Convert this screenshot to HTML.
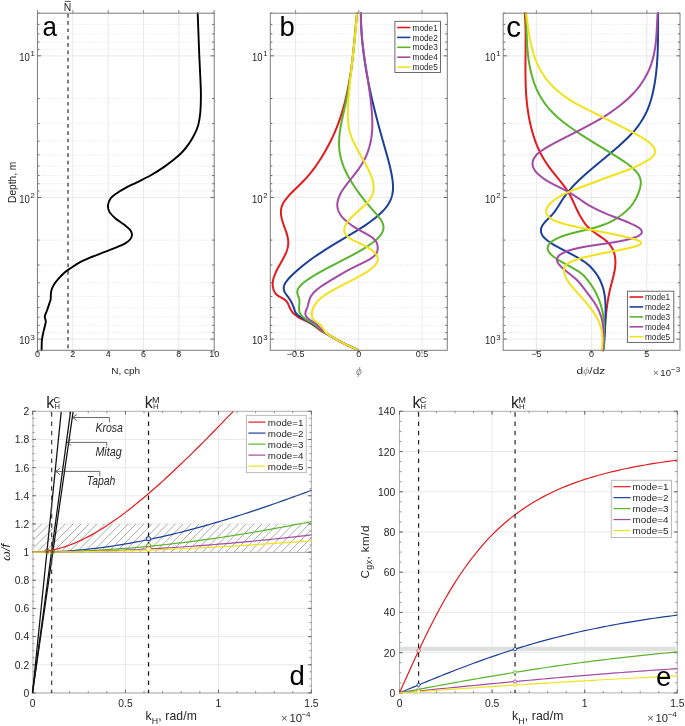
<!DOCTYPE html><html><head><meta charset="utf-8"><style>html,body{margin:0;padding:0;background:#fff;}svg{display:block;will-change:transform;}text{font-family:"Liberation Sans",sans-serif;}</style></head><body>
<svg width="685" height="726" viewBox="0 0 685 726">
<rect width="685" height="726" fill="#fff"/>
<line x1="37.45" y1="24.41" x2="214.2" y2="24.41" stroke="#e2e2e2" stroke-width="0.8" stroke-dasharray="1 1.2"/>
<line x1="37.45" y1="33.9" x2="214.2" y2="33.9" stroke="#e2e2e2" stroke-width="0.8" stroke-dasharray="1 1.2"/>
<line x1="37.45" y1="42.11" x2="214.2" y2="42.11" stroke="#e2e2e2" stroke-width="0.8" stroke-dasharray="1 1.2"/>
<line x1="37.45" y1="49.35" x2="214.2" y2="49.35" stroke="#e2e2e2" stroke-width="0.8" stroke-dasharray="1 1.2"/>
<line x1="37.45" y1="98.47" x2="214.2" y2="98.47" stroke="#e2e2e2" stroke-width="0.8" stroke-dasharray="1 1.2"/>
<line x1="37.45" y1="123.41" x2="214.2" y2="123.41" stroke="#e2e2e2" stroke-width="0.8" stroke-dasharray="1 1.2"/>
<line x1="37.45" y1="141.1" x2="214.2" y2="141.1" stroke="#e2e2e2" stroke-width="0.8" stroke-dasharray="1 1.2"/>
<line x1="37.45" y1="154.83" x2="214.2" y2="154.83" stroke="#e2e2e2" stroke-width="0.8" stroke-dasharray="1 1.2"/>
<line x1="37.45" y1="166.04" x2="214.2" y2="166.04" stroke="#e2e2e2" stroke-width="0.8" stroke-dasharray="1 1.2"/>
<line x1="37.45" y1="175.52" x2="214.2" y2="175.52" stroke="#e2e2e2" stroke-width="0.8" stroke-dasharray="1 1.2"/>
<line x1="37.45" y1="183.73" x2="214.2" y2="183.73" stroke="#e2e2e2" stroke-width="0.8" stroke-dasharray="1 1.2"/>
<line x1="37.45" y1="190.98" x2="214.2" y2="190.98" stroke="#e2e2e2" stroke-width="0.8" stroke-dasharray="1 1.2"/>
<line x1="37.45" y1="240.09" x2="214.2" y2="240.09" stroke="#e2e2e2" stroke-width="0.8" stroke-dasharray="1 1.2"/>
<line x1="37.45" y1="265.03" x2="214.2" y2="265.03" stroke="#e2e2e2" stroke-width="0.8" stroke-dasharray="1 1.2"/>
<line x1="37.45" y1="282.73" x2="214.2" y2="282.73" stroke="#e2e2e2" stroke-width="0.8" stroke-dasharray="1 1.2"/>
<line x1="37.45" y1="296.45" x2="214.2" y2="296.45" stroke="#e2e2e2" stroke-width="0.8" stroke-dasharray="1 1.2"/>
<line x1="37.45" y1="307.67" x2="214.2" y2="307.67" stroke="#e2e2e2" stroke-width="0.8" stroke-dasharray="1 1.2"/>
<line x1="37.45" y1="317.15" x2="214.2" y2="317.15" stroke="#e2e2e2" stroke-width="0.8" stroke-dasharray="1 1.2"/>
<line x1="37.45" y1="325.36" x2="214.2" y2="325.36" stroke="#e2e2e2" stroke-width="0.8" stroke-dasharray="1 1.2"/>
<line x1="37.45" y1="332.61" x2="214.2" y2="332.61" stroke="#e2e2e2" stroke-width="0.8" stroke-dasharray="1 1.2"/>
<line x1="37.45" y1="55.83" x2="214.2" y2="55.83" stroke="#e6e6e6" stroke-width="0.9"/>
<line x1="37.45" y1="197.46" x2="214.2" y2="197.46" stroke="#e6e6e6" stroke-width="0.9"/>
<line x1="37.45" y1="339.09" x2="214.2" y2="339.09" stroke="#e6e6e6" stroke-width="0.9"/>
<line x1="72.8" y1="13.2" x2="72.8" y2="350.3" stroke="#e6e6e6" stroke-width="0.9"/>
<line x1="108.15" y1="13.2" x2="108.15" y2="350.3" stroke="#e6e6e6" stroke-width="0.9"/>
<line x1="143.5" y1="13.2" x2="143.5" y2="350.3" stroke="#e6e6e6" stroke-width="0.9"/>
<line x1="178.85" y1="13.2" x2="178.85" y2="350.3" stroke="#e6e6e6" stroke-width="0.9"/>
<line x1="68.03" y1="13.7" x2="68.03" y2="350.3" stroke="#4a4a4a" stroke-width="1.4" stroke-dasharray="3.7 3.65"/>
<path d="M197.7,13.3C198,21.43 198.32,30.17 198.6,37.7C198.84,44.18 199.03,49.37 199.3,55.8C199.61,63.12 200.12,72.25 200.4,79.3C200.63,85.06 200.92,89.56 200.9,95C200.88,100.89 200.76,107.96 200.2,113.4C199.75,117.78 199.27,121.48 198.2,125.2C197.17,128.76 195.59,132.15 194,135.3C192.5,138.26 190.89,140.89 189,143.6C187.01,146.46 184.78,149.36 182.3,152C179.76,154.71 176.89,157.15 173.9,159.6C170.75,162.19 167.46,164.6 163.8,167.1C159.7,169.9 154.94,172.94 150.4,175.5C145.97,178 141.24,180.13 136.9,182.3C132.86,184.32 128.74,186.15 125.2,188.1C122.13,189.79 119.32,191.37 116.8,193.2C114.5,194.86 112.08,196.43 110.6,198.5C109.22,200.43 108.2,202.87 108,205.1C107.8,207.27 108.27,209.64 109.3,211.7C110.48,214.05 112.89,216.14 115.2,218.2C117.82,220.54 121.72,222.65 124.4,224.8C126.64,226.6 129.03,228.23 130.3,230.1C131.3,231.57 132,233.17 132,234.7C132,236.23 131.33,237.9 130.3,239.3C129.03,241.03 126.69,242.56 124.4,243.9C121.76,245.45 118.47,246.47 115.2,247.8C111.52,249.3 107.34,250.87 103.4,252.4C99.44,253.94 95.44,255.36 91.5,257C87.54,258.65 83.28,260.35 79.7,262.3C76.48,264.05 73.54,266.22 70.9,268C68.69,269.49 66.82,270.58 64.9,272.2C62.84,273.94 60.82,276.15 59,278.2C57.26,280.16 55.45,282.25 54.2,284.2C53.16,285.83 52.35,287.37 51.8,289C51.28,290.54 51.1,292.03 50.9,293.7C50.68,295.57 50.92,297.97 50.6,299.7C50.34,301.07 49.87,301.89 49.4,303.3C48.74,305.29 47.8,308.21 47,310.5C46.27,312.6 44.94,314.59 44.8,316.5C44.68,318.17 45.79,319.61 45.8,321.3C45.81,323.19 45.05,325.31 44.6,327.3C44.15,329.31 43.54,331.21 43.1,333.3C42.63,335.56 42.16,337.83 41.9,340.4C41.6,343.42 41.7,347 41.6,350.3" fill="none" stroke="#000" stroke-width="1.9" stroke-linejoin="round" stroke-linecap="round"/>
<line x1="37.45" y1="13.2" x2="39.45" y2="13.2" stroke="#555" stroke-width="0.9"/>
<line x1="214.2" y1="13.2" x2="212.2" y2="13.2" stroke="#555" stroke-width="0.9"/>
<line x1="37.45" y1="24.41" x2="39.45" y2="24.41" stroke="#555" stroke-width="0.9"/>
<line x1="214.2" y1="24.41" x2="212.2" y2="24.41" stroke="#555" stroke-width="0.9"/>
<line x1="37.45" y1="33.9" x2="39.45" y2="33.9" stroke="#555" stroke-width="0.9"/>
<line x1="214.2" y1="33.9" x2="212.2" y2="33.9" stroke="#555" stroke-width="0.9"/>
<line x1="37.45" y1="42.11" x2="39.45" y2="42.11" stroke="#555" stroke-width="0.9"/>
<line x1="214.2" y1="42.11" x2="212.2" y2="42.11" stroke="#555" stroke-width="0.9"/>
<line x1="37.45" y1="49.35" x2="39.45" y2="49.35" stroke="#555" stroke-width="0.9"/>
<line x1="214.2" y1="49.35" x2="212.2" y2="49.35" stroke="#555" stroke-width="0.9"/>
<line x1="37.45" y1="55.83" x2="41.05" y2="55.83" stroke="#555" stroke-width="0.9"/>
<line x1="214.2" y1="55.83" x2="210.6" y2="55.83" stroke="#555" stroke-width="0.9"/>
<line x1="37.45" y1="98.47" x2="39.45" y2="98.47" stroke="#555" stroke-width="0.9"/>
<line x1="214.2" y1="98.47" x2="212.2" y2="98.47" stroke="#555" stroke-width="0.9"/>
<line x1="37.45" y1="123.41" x2="39.45" y2="123.41" stroke="#555" stroke-width="0.9"/>
<line x1="214.2" y1="123.41" x2="212.2" y2="123.41" stroke="#555" stroke-width="0.9"/>
<line x1="37.45" y1="141.1" x2="39.45" y2="141.1" stroke="#555" stroke-width="0.9"/>
<line x1="214.2" y1="141.1" x2="212.2" y2="141.1" stroke="#555" stroke-width="0.9"/>
<line x1="37.45" y1="154.83" x2="39.45" y2="154.83" stroke="#555" stroke-width="0.9"/>
<line x1="214.2" y1="154.83" x2="212.2" y2="154.83" stroke="#555" stroke-width="0.9"/>
<line x1="37.45" y1="166.04" x2="39.45" y2="166.04" stroke="#555" stroke-width="0.9"/>
<line x1="214.2" y1="166.04" x2="212.2" y2="166.04" stroke="#555" stroke-width="0.9"/>
<line x1="37.45" y1="175.52" x2="39.45" y2="175.52" stroke="#555" stroke-width="0.9"/>
<line x1="214.2" y1="175.52" x2="212.2" y2="175.52" stroke="#555" stroke-width="0.9"/>
<line x1="37.45" y1="183.73" x2="39.45" y2="183.73" stroke="#555" stroke-width="0.9"/>
<line x1="214.2" y1="183.73" x2="212.2" y2="183.73" stroke="#555" stroke-width="0.9"/>
<line x1="37.45" y1="190.98" x2="39.45" y2="190.98" stroke="#555" stroke-width="0.9"/>
<line x1="214.2" y1="190.98" x2="212.2" y2="190.98" stroke="#555" stroke-width="0.9"/>
<line x1="37.45" y1="197.46" x2="41.05" y2="197.46" stroke="#555" stroke-width="0.9"/>
<line x1="214.2" y1="197.46" x2="210.6" y2="197.46" stroke="#555" stroke-width="0.9"/>
<line x1="37.45" y1="240.09" x2="39.45" y2="240.09" stroke="#555" stroke-width="0.9"/>
<line x1="214.2" y1="240.09" x2="212.2" y2="240.09" stroke="#555" stroke-width="0.9"/>
<line x1="37.45" y1="265.03" x2="39.45" y2="265.03" stroke="#555" stroke-width="0.9"/>
<line x1="214.2" y1="265.03" x2="212.2" y2="265.03" stroke="#555" stroke-width="0.9"/>
<line x1="37.45" y1="282.73" x2="39.45" y2="282.73" stroke="#555" stroke-width="0.9"/>
<line x1="214.2" y1="282.73" x2="212.2" y2="282.73" stroke="#555" stroke-width="0.9"/>
<line x1="37.45" y1="296.45" x2="39.45" y2="296.45" stroke="#555" stroke-width="0.9"/>
<line x1="214.2" y1="296.45" x2="212.2" y2="296.45" stroke="#555" stroke-width="0.9"/>
<line x1="37.45" y1="307.67" x2="39.45" y2="307.67" stroke="#555" stroke-width="0.9"/>
<line x1="214.2" y1="307.67" x2="212.2" y2="307.67" stroke="#555" stroke-width="0.9"/>
<line x1="37.45" y1="317.15" x2="39.45" y2="317.15" stroke="#555" stroke-width="0.9"/>
<line x1="214.2" y1="317.15" x2="212.2" y2="317.15" stroke="#555" stroke-width="0.9"/>
<line x1="37.45" y1="325.36" x2="39.45" y2="325.36" stroke="#555" stroke-width="0.9"/>
<line x1="214.2" y1="325.36" x2="212.2" y2="325.36" stroke="#555" stroke-width="0.9"/>
<line x1="37.45" y1="332.61" x2="39.45" y2="332.61" stroke="#555" stroke-width="0.9"/>
<line x1="214.2" y1="332.61" x2="212.2" y2="332.61" stroke="#555" stroke-width="0.9"/>
<line x1="37.45" y1="339.09" x2="41.05" y2="339.09" stroke="#555" stroke-width="0.9"/>
<line x1="214.2" y1="339.09" x2="210.6" y2="339.09" stroke="#555" stroke-width="0.9"/>
<line x1="37.45" y1="13.2" x2="37.45" y2="10" stroke="#7c7c7c" stroke-width="0.9"/>
<line x1="37.45" y1="350.3" x2="37.45" y2="353.5" stroke="#7c7c7c" stroke-width="0.9"/>
<line x1="72.8" y1="13.2" x2="72.8" y2="10" stroke="#7c7c7c" stroke-width="0.9"/>
<line x1="72.8" y1="350.3" x2="72.8" y2="353.5" stroke="#7c7c7c" stroke-width="0.9"/>
<line x1="108.15" y1="13.2" x2="108.15" y2="10" stroke="#7c7c7c" stroke-width="0.9"/>
<line x1="108.15" y1="350.3" x2="108.15" y2="353.5" stroke="#7c7c7c" stroke-width="0.9"/>
<line x1="143.5" y1="13.2" x2="143.5" y2="10" stroke="#7c7c7c" stroke-width="0.9"/>
<line x1="143.5" y1="350.3" x2="143.5" y2="353.5" stroke="#7c7c7c" stroke-width="0.9"/>
<line x1="178.85" y1="13.2" x2="178.85" y2="10" stroke="#7c7c7c" stroke-width="0.9"/>
<line x1="178.85" y1="350.3" x2="178.85" y2="353.5" stroke="#7c7c7c" stroke-width="0.9"/>
<line x1="214.2" y1="13.2" x2="214.2" y2="10" stroke="#7c7c7c" stroke-width="0.9"/>
<line x1="214.2" y1="350.3" x2="214.2" y2="353.5" stroke="#7c7c7c" stroke-width="0.9"/>
<rect x="37.45" y="13.2" width="176.75" height="337.1" fill="none" stroke="#7c7c7c" stroke-width="1"/>
<text x="37.45" y="357.2" font-size="9" text-anchor="middle" fill="#262626">0</text>
<text x="72.8" y="357.2" font-size="9" text-anchor="middle" fill="#262626">2</text>
<text x="108.15" y="357.2" font-size="9" text-anchor="middle" fill="#262626">4</text>
<text x="143.5" y="357.2" font-size="9" text-anchor="middle" fill="#262626">6</text>
<text x="178.85" y="357.2" font-size="9" text-anchor="middle" fill="#262626">8</text>
<text x="214.2" y="357.2" font-size="9" text-anchor="middle" fill="#262626">10</text>
<text x="19.15" y="61.13" font-family="Liberation Serif" font-size="10.6" fill="#262626" textLength="10.6" lengthAdjust="spacingAndGlyphs">10</text>
<text x="30.45" y="56.43" font-family="Liberation Serif" font-size="7.8" fill="#262626">1</text>
<text x="19.15" y="202.76" font-family="Liberation Serif" font-size="10.6" fill="#262626" textLength="10.6" lengthAdjust="spacingAndGlyphs">10</text>
<text x="30.45" y="198.06" font-family="Liberation Serif" font-size="7.8" fill="#262626">2</text>
<text x="19.15" y="344.39" font-family="Liberation Serif" font-size="10.6" fill="#262626" textLength="10.6" lengthAdjust="spacingAndGlyphs">10</text>
<text x="30.45" y="339.69" font-family="Liberation Serif" font-size="7.8" fill="#262626">3</text>
<text x="67.43" y="10.7" font-size="10.4" text-anchor="middle" fill="#262626">N</text>
<line x1="64.73" y1="1.4" x2="70.63" y2="1.4" stroke="#262626" stroke-width="0.8"/>
<text x="42.4" y="36.2" font-size="28" fill="#000" textLength="14.4" lengthAdjust="spacingAndGlyphs">a</text>
<text x="111.2" y="373.9" font-size="9.6" fill="#262626" textLength="29" lengthAdjust="spacingAndGlyphs">N, cph</text>
<text transform="translate(16.0,182.3) rotate(-90)" font-size="10.2" text-anchor="middle" fill="#262626">Depth, m</text>
<line x1="270.3" y1="24.41" x2="447.3" y2="24.41" stroke="#e2e2e2" stroke-width="0.8" stroke-dasharray="1 1.2"/>
<line x1="270.3" y1="33.9" x2="447.3" y2="33.9" stroke="#e2e2e2" stroke-width="0.8" stroke-dasharray="1 1.2"/>
<line x1="270.3" y1="42.11" x2="447.3" y2="42.11" stroke="#e2e2e2" stroke-width="0.8" stroke-dasharray="1 1.2"/>
<line x1="270.3" y1="49.35" x2="447.3" y2="49.35" stroke="#e2e2e2" stroke-width="0.8" stroke-dasharray="1 1.2"/>
<line x1="270.3" y1="98.47" x2="447.3" y2="98.47" stroke="#e2e2e2" stroke-width="0.8" stroke-dasharray="1 1.2"/>
<line x1="270.3" y1="123.41" x2="447.3" y2="123.41" stroke="#e2e2e2" stroke-width="0.8" stroke-dasharray="1 1.2"/>
<line x1="270.3" y1="141.1" x2="447.3" y2="141.1" stroke="#e2e2e2" stroke-width="0.8" stroke-dasharray="1 1.2"/>
<line x1="270.3" y1="154.83" x2="447.3" y2="154.83" stroke="#e2e2e2" stroke-width="0.8" stroke-dasharray="1 1.2"/>
<line x1="270.3" y1="166.04" x2="447.3" y2="166.04" stroke="#e2e2e2" stroke-width="0.8" stroke-dasharray="1 1.2"/>
<line x1="270.3" y1="175.52" x2="447.3" y2="175.52" stroke="#e2e2e2" stroke-width="0.8" stroke-dasharray="1 1.2"/>
<line x1="270.3" y1="183.73" x2="447.3" y2="183.73" stroke="#e2e2e2" stroke-width="0.8" stroke-dasharray="1 1.2"/>
<line x1="270.3" y1="190.98" x2="447.3" y2="190.98" stroke="#e2e2e2" stroke-width="0.8" stroke-dasharray="1 1.2"/>
<line x1="270.3" y1="240.09" x2="447.3" y2="240.09" stroke="#e2e2e2" stroke-width="0.8" stroke-dasharray="1 1.2"/>
<line x1="270.3" y1="265.03" x2="447.3" y2="265.03" stroke="#e2e2e2" stroke-width="0.8" stroke-dasharray="1 1.2"/>
<line x1="270.3" y1="282.73" x2="447.3" y2="282.73" stroke="#e2e2e2" stroke-width="0.8" stroke-dasharray="1 1.2"/>
<line x1="270.3" y1="296.45" x2="447.3" y2="296.45" stroke="#e2e2e2" stroke-width="0.8" stroke-dasharray="1 1.2"/>
<line x1="270.3" y1="307.67" x2="447.3" y2="307.67" stroke="#e2e2e2" stroke-width="0.8" stroke-dasharray="1 1.2"/>
<line x1="270.3" y1="317.15" x2="447.3" y2="317.15" stroke="#e2e2e2" stroke-width="0.8" stroke-dasharray="1 1.2"/>
<line x1="270.3" y1="325.36" x2="447.3" y2="325.36" stroke="#e2e2e2" stroke-width="0.8" stroke-dasharray="1 1.2"/>
<line x1="270.3" y1="332.61" x2="447.3" y2="332.61" stroke="#e2e2e2" stroke-width="0.8" stroke-dasharray="1 1.2"/>
<line x1="270.3" y1="55.83" x2="447.3" y2="55.83" stroke="#e6e6e6" stroke-width="0.9"/>
<line x1="270.3" y1="197.46" x2="447.3" y2="197.46" stroke="#e6e6e6" stroke-width="0.9"/>
<line x1="270.3" y1="339.09" x2="447.3" y2="339.09" stroke="#e6e6e6" stroke-width="0.9"/>
<line x1="295.59" y1="13.2" x2="295.59" y2="350.3" stroke="#e6e6e6" stroke-width="0.9"/>
<line x1="358.8" y1="13.2" x2="358.8" y2="350.3" stroke="#e6e6e6" stroke-width="0.9"/>
<line x1="422.01" y1="13.2" x2="422.01" y2="350.3" stroke="#e6e6e6" stroke-width="0.9"/>
<path d="M357.09,13.3 L356.98,14.3 L356.87,15.3 L356.77,16.3 L356.66,17.3 L356.55,18.3 L356.45,19.3 L356.35,20.3 L356.25,21.3 L356.15,22.3 L356.04,23.3 L355.95,24.3 L355.85,25.3 L355.75,26.3 L355.65,27.3 L355.55,28.3 L355.46,29.3 L355.36,30.3 L355.27,31.3 L355.17,32.3 L355.07,33.3 L354.98,34.3 L354.88,35.3 L354.79,36.3 L354.69,37.3 L354.6,38.3 L354.5,39.3 L354.4,40.3 L354.31,41.3 L354.21,42.3 L354.11,43.3 L354.01,44.3 L353.92,45.3 L353.82,46.3 L353.72,47.3 L353.61,48.3 L353.51,49.3 L353.41,50.3 L353.3,51.3 L353.2,52.3 L353.09,53.3 L352.98,54.3 L352.87,55.3 L352.76,56.3 L352.65,57.3 L352.53,58.3 L352.42,59.3 L352.3,60.3 L352.18,61.3 L352.06,62.3 L351.93,63.3 L351.81,64.3 L351.68,65.3 L351.55,66.3 L351.42,67.3 L351.29,68.3 L351.15,69.3 L351.01,70.3 L350.87,71.3 L350.72,72.3 L350.58,73.3 L350.43,74.3 L350.28,75.3 L350.12,76.3 L349.96,77.3 L349.8,78.3 L349.64,79.3 L349.47,80.3 L349.3,81.3 L349.13,82.3 L348.95,83.3 L348.77,84.3 L348.58,85.3 L348.4,86.3 L348.21,87.3 L348.01,88.3 L347.81,89.3 L347.61,90.3 L347.4,91.3 L347.19,92.3 L346.98,93.3 L346.76,94.3 L346.54,95.3 L346.31,96.3 L346.08,97.3 L345.84,98.3 L345.6,99.3 L345.36,100.3 L345.11,101.3 L344.85,102.3 L344.6,103.3 L344.33,104.3 L344.06,105.3 L343.79,106.3 L343.51,107.3 L343.23,108.3 L342.94,109.3 L342.64,110.3 L342.35,111.3 L342.04,112.3 L341.73,113.3 L341.41,114.3 L341.09,115.3 L340.77,116.3 L340.43,117.3 L340.09,118.3 L339.75,119.3 L339.4,120.3 L339.04,121.3 L338.68,122.3 L338.31,123.3 L337.94,124.3 L337.56,125.3 L337.17,126.3 L336.78,127.3 L336.37,128.3 L335.97,129.3 L335.55,130.3 L335.13,131.3 L334.71,132.3 L334.27,133.3 L333.83,134.3 L333.38,135.3 L332.93,136.3 L332.47,137.3 L332,138.3 L331.52,139.3 L331.04,140.3 L330.54,141.3 L330.05,142.3 L329.54,143.3 L329.03,144.3 L328.5,145.3 L327.97,146.3 L327.44,147.3 L326.89,148.3 L326.34,149.3 L325.78,150.3 L325.21,151.3 L324.63,152.3 L324.04,153.3 L323.45,154.3 L322.85,155.3 L322.24,156.3 L321.62,157.3 L320.99,158.3 L320.35,159.3 L319.7,160.3 L319.05,161.3 L318.38,162.3 L317.7,163.3 L317.02,164.3 L316.32,165.3 L315.6,166.3 L314.88,167.3 L314.14,168.3 L313.39,169.3 L312.63,170.3 L311.85,171.3 L311.06,172.3 L310.25,173.3 L309.43,174.3 L308.59,175.3 L307.74,176.3 L306.86,177.3 L305.98,178.3 L305.07,179.3 L304.15,180.3 L303.2,181.3 L302.24,182.3 L301.26,183.3 L300.26,184.3 L299.25,185.3 L298.22,186.3 L297.19,187.3 L296.15,188.3 L295.12,189.3 L294.09,190.3 L293.07,191.3 L292.06,192.3 L291.08,193.3 L290.11,194.3 L289.18,195.3 L288.27,196.3 L287.4,197.3 L286.57,198.3 L285.78,199.3 L285.04,200.3 L284.35,201.3 L283.72,202.3 L283.15,203.3 L282.65,204.3 L282.21,205.3 L281.84,206.3 L281.54,207.3 L281.3,208.3 L281.12,209.3 L281,210.3 L280.93,211.3 L280.91,212.3 L280.94,213.3 L281.01,214.3 L281.13,215.3 L281.28,216.3 L281.46,217.3 L281.68,218.3 L281.92,219.3 L282.2,220.3 L282.49,221.3 L282.8,222.3 L283.13,223.3 L283.47,224.3 L283.82,225.3 L284.18,226.3 L284.54,227.3 L284.9,228.3 L285.26,229.3 L285.62,230.3 L285.96,231.3 L286.29,232.3 L286.61,233.3 L286.91,234.3 L287.19,235.3 L287.44,236.3 L287.67,237.3 L287.87,238.3 L288.03,239.3 L288.15,240.3 L288.24,241.3 L288.28,242.3 L288.28,243.3 L288.22,244.3 L288.12,245.3 L287.97,246.3 L287.77,247.3 L287.53,248.3 L287.25,249.3 L286.93,250.3 L286.58,251.3 L286.2,252.3 L285.78,253.3 L285.34,254.3 L284.88,255.3 L284.39,256.3 L283.89,257.3 L283.36,258.3 L282.83,259.3 L282.28,260.3 L281.72,261.3 L281.16,262.3 L280.6,263.3 L280.03,264.3 L279.47,265.3 L278.91,266.3 L278.36,267.3 L277.82,268.3 L277.29,269.3 L276.78,270.3 L276.28,271.3 L275.81,272.3 L275.36,273.3 L274.93,274.3 L274.54,275.3 L274.17,276.3 L273.84,277.3 L273.54,278.3 L273.29,279.3 L273.07,280.3 L272.9,281.3 L272.78,282.3 L272.7,283.3 L272.68,284.3 L272.71,285.3 L272.8,286.3 L272.95,287.3 L273.17,288.3 L273.44,289.3 L273.79,290.3 L274.21,291.3 L274.71,292.3 L275.37,293.3 L276.26,294.3 L277.47,295.3 L279.03,296.3 L280.8,297.3 L282.58,298.3 L284.19,299.3 L285.47,300.3 L286.46,301.3 L287.21,302.3 L287.8,303.3 L288.29,304.3 L288.74,305.3 L289.17,306.3 L289.61,307.3 L290.08,308.3 L290.59,309.3 L291.16,310.3 L291.82,311.3 L292.58,312.3 L293.47,313.3 L294.5,314.3 L295.69,315.3 L297.05,316.3 L298.61,317.3 L300.39,318.3 L302.39,319.3 L304.62,320.3 L306.88,321.3 L308.91,322.3 L310.67,323.3 L312.22,324.3 L313.62,325.3 L314.93,326.3 L316.19,327.3 L317.47,328.3 L318.82,329.3 L320.29,330.3 L321.93,331.3 L323.68,332.3 L325.53,333.3 L327.42,334.3 L329.33,335.3 L331.2,336.3 L333.02,337.3 L334.73,338.3 L336.37,339.3 L338.01,340.3 L339.71,341.3 L341.56,342.3 L343.6,343.3 L345.8,344.3 L348.07,345.3 L350.36,346.3 L352.59,347.3 L354.68,348.3 L356.57,349.3 L357.72,350" fill="none" stroke="#e41a1c" stroke-width="2.0" stroke-linejoin="round" stroke-linecap="round"/>
<path d="M360.95,13.3 L360.95,14.3 L360.96,15.3 L360.96,16.3 L360.98,17.3 L360.99,18.3 L361.01,19.3 L361.03,20.3 L361.06,21.3 L361.09,22.3 L361.12,23.3 L361.16,24.3 L361.2,25.3 L361.24,26.3 L361.29,27.3 L361.34,28.3 L361.39,29.3 L361.45,30.3 L361.51,31.3 L361.57,32.3 L361.64,33.3 L361.71,34.3 L361.78,35.3 L361.86,36.3 L361.94,37.3 L362.02,38.3 L362.1,39.3 L362.19,40.3 L362.28,41.3 L362.38,42.3 L362.47,43.3 L362.57,44.3 L362.68,45.3 L362.78,46.3 L362.89,47.3 L363.01,48.3 L363.12,49.3 L363.24,50.3 L363.36,51.3 L363.48,52.3 L363.61,53.3 L363.74,54.3 L363.87,55.3 L364,56.3 L364.14,57.3 L364.28,58.3 L364.42,59.3 L364.57,60.3 L364.72,61.3 L364.87,62.3 L365.02,63.3 L365.18,64.3 L365.33,65.3 L365.49,66.3 L365.66,67.3 L365.82,68.3 L365.99,69.3 L366.16,70.3 L366.33,71.3 L366.51,72.3 L366.68,73.3 L366.86,74.3 L367.05,75.3 L367.23,76.3 L367.42,77.3 L367.6,78.3 L367.79,79.3 L367.99,80.3 L368.18,81.3 L368.38,82.3 L368.58,83.3 L368.78,84.3 L368.98,85.3 L369.19,86.3 L369.4,87.3 L369.61,88.3 L369.82,89.3 L370.03,90.3 L370.25,91.3 L370.46,92.3 L370.68,93.3 L370.9,94.3 L371.13,95.3 L371.35,96.3 L371.58,97.3 L371.81,98.3 L372.04,99.3 L372.27,100.3 L372.5,101.3 L372.74,102.3 L372.97,103.3 L373.21,104.3 L373.45,105.3 L373.69,106.3 L373.93,107.3 L374.18,108.3 L374.43,109.3 L374.67,110.3 L374.92,111.3 L375.17,112.3 L375.43,113.3 L375.68,114.3 L375.93,115.3 L376.19,116.3 L376.45,117.3 L376.71,118.3 L376.97,119.3 L377.23,120.3 L377.49,121.3 L377.75,122.3 L378.02,123.3 L378.29,124.3 L378.55,125.3 L378.82,126.3 L379.09,127.3 L379.36,128.3 L379.63,129.3 L379.91,130.3 L380.18,131.3 L380.46,132.3 L380.73,133.3 L381.01,134.3 L381.29,135.3 L381.57,136.3 L381.85,137.3 L382.13,138.3 L382.41,139.3 L382.69,140.3 L382.97,141.3 L383.26,142.3 L383.54,143.3 L383.83,144.3 L384.11,145.3 L384.4,146.3 L384.69,147.3 L384.97,148.3 L385.26,149.3 L385.55,150.3 L385.83,151.3 L386.12,152.3 L386.4,153.3 L386.68,154.3 L386.96,155.3 L387.24,156.3 L387.52,157.3 L387.79,158.3 L388.06,159.3 L388.33,160.3 L388.59,161.3 L388.85,162.3 L389.11,163.3 L389.36,164.3 L389.61,165.3 L389.85,166.3 L390.08,167.3 L390.32,168.3 L390.54,169.3 L390.76,170.3 L390.97,171.3 L391.18,172.3 L391.38,173.3 L391.57,174.3 L391.76,175.3 L391.94,176.3 L392.11,177.3 L392.27,178.3 L392.42,179.3 L392.56,180.3 L392.68,181.3 L392.79,182.3 L392.88,183.3 L392.95,184.3 L393,185.3 L393.03,186.3 L393.04,187.3 L393.03,188.3 L392.98,189.3 L392.91,190.3 L392.81,191.3 L392.68,192.3 L392.52,193.3 L392.33,194.3 L392.1,195.3 L391.83,196.3 L391.52,197.3 L391.18,198.3 L390.79,199.3 L390.36,200.3 L389.89,201.3 L389.37,202.3 L388.8,203.3 L388.19,204.3 L387.53,205.3 L386.82,206.3 L386.06,207.3 L385.26,208.3 L384.41,209.3 L383.52,210.3 L382.58,211.3 L381.6,212.3 L380.58,213.3 L379.51,214.3 L378.41,215.3 L377.26,216.3 L376.07,217.3 L374.84,218.3 L373.56,219.3 L372.25,220.3 L370.91,221.3 L369.52,222.3 L368.1,223.3 L366.63,224.3 L365.14,225.3 L363.62,226.3 L362.06,227.3 L360.49,228.3 L358.89,229.3 L357.27,230.3 L355.63,231.3 L353.98,232.3 L352.32,233.3 L350.65,234.3 L348.97,235.3 L347.3,236.3 L345.62,237.3 L343.94,238.3 L342.26,239.3 L340.59,240.3 L338.92,241.3 L337.26,242.3 L335.6,243.3 L333.95,244.3 L332.32,245.3 L330.69,246.3 L329.08,247.3 L327.48,248.3 L325.9,249.3 L324.33,250.3 L322.79,251.3 L321.26,252.3 L319.76,253.3 L318.27,254.3 L316.81,255.3 L315.37,256.3 L313.95,257.3 L312.55,258.3 L311.17,259.3 L309.81,260.3 L308.47,261.3 L307.16,262.3 L305.86,263.3 L304.58,264.3 L303.33,265.3 L302.1,266.3 L300.88,267.3 L299.69,268.3 L298.52,269.3 L297.37,270.3 L296.23,271.3 L295.12,272.3 L294.03,273.3 L292.97,274.3 L291.92,275.3 L290.9,276.3 L289.91,277.3 L288.97,278.3 L288.07,279.3 L287.24,280.3 L286.48,281.3 L285.79,282.3 L285.18,283.3 L284.67,284.3 L284.25,285.3 L283.95,286.3 L283.76,287.3 L283.69,288.3 L283.76,289.3 L283.96,290.3 L284.32,291.3 L284.82,292.3 L285.44,293.3 L286.14,294.3 L286.88,295.3 L287.63,296.3 L288.35,297.3 L289.03,298.3 L289.69,299.3 L290.31,300.3 L290.9,301.3 L291.46,302.3 L291.98,303.3 L292.46,304.3 L292.91,305.3 L293.32,306.3 L293.69,307.3 L294.02,308.3 L294.31,309.3 L294.62,310.3 L294.99,311.3 L295.46,312.3 L296.09,313.3 L296.92,314.3 L298.01,315.3 L299.39,316.3 L301.06,317.3 L302.89,318.3 L304.74,319.3 L306.5,320.3 L308.19,321.3 L309.8,322.3 L311.37,323.3 L312.88,324.3 L314.36,325.3 L315.81,326.3 L317.25,327.3 L318.68,328.3 L320.11,329.3 L321.57,330.3 L323.04,331.3 L324.54,332.3 L326.06,333.3 L327.62,334.3 L329.22,335.3 L330.86,336.3 L332.55,337.3 L334.29,338.3 L336.08,339.3 L337.93,340.3 L339.84,341.3 L341.82,342.3 L343.86,343.3 L345.96,344.3 L348.08,345.3 L350.21,346.3 L352.32,347.3 L354.38,348.3 L356.38,349.3 L357.73,350" fill="none" stroke="#1c3f9a" stroke-width="2.0" stroke-linejoin="round" stroke-linecap="round"/>
<path d="M357.01,13.3 L356.92,14.3 L356.82,15.3 L356.73,16.3 L356.64,17.3 L356.55,18.3 L356.46,19.3 L356.37,20.3 L356.27,21.3 L356.18,22.3 L356.09,23.3 L356,24.3 L355.91,25.3 L355.82,26.3 L355.73,27.3 L355.64,28.3 L355.55,29.3 L355.46,30.3 L355.37,31.3 L355.27,32.3 L355.18,33.3 L355.09,34.3 L355,35.3 L354.9,36.3 L354.81,37.3 L354.72,38.3 L354.62,39.3 L354.53,40.3 L354.43,41.3 L354.34,42.3 L354.24,43.3 L354.14,44.3 L354.04,45.3 L353.94,46.3 L353.84,47.3 L353.74,48.3 L353.64,49.3 L353.54,50.3 L353.43,51.3 L353.33,52.3 L353.22,53.3 L353.11,54.3 L353,55.3 L352.89,56.3 L352.78,57.3 L352.67,58.3 L352.56,59.3 L352.44,60.3 L352.33,61.3 L352.21,62.3 L352.09,63.3 L351.97,64.3 L351.85,65.3 L351.72,66.3 L351.6,67.3 L351.47,68.3 L351.34,69.3 L351.21,70.3 L351.08,71.3 L350.95,72.3 L350.81,73.3 L350.67,74.3 L350.53,75.3 L350.39,76.3 L350.25,77.3 L350.1,78.3 L349.95,79.3 L349.8,80.3 L349.65,81.3 L349.49,82.3 L349.34,83.3 L349.18,84.3 L349.02,85.3 L348.85,86.3 L348.69,87.3 L348.52,88.3 L348.35,89.3 L348.17,90.3 L348,91.3 L347.82,92.3 L347.64,93.3 L347.45,94.3 L347.27,95.3 L347.08,96.3 L346.88,97.3 L346.69,98.3 L346.49,99.3 L346.29,100.3 L346.09,101.3 L345.88,102.3 L345.67,103.3 L345.46,104.3 L345.24,105.3 L345.02,106.3 L344.8,107.3 L344.58,108.3 L344.35,109.3 L344.13,110.3 L343.9,111.3 L343.67,112.3 L343.45,113.3 L343.22,114.3 L343,115.3 L342.78,116.3 L342.56,117.3 L342.34,118.3 L342.12,119.3 L341.91,120.3 L341.71,121.3 L341.5,122.3 L341.31,123.3 L341.11,124.3 L340.93,125.3 L340.75,126.3 L340.57,127.3 L340.41,128.3 L340.25,129.3 L340.1,130.3 L339.95,131.3 L339.82,132.3 L339.69,133.3 L339.58,134.3 L339.48,135.3 L339.38,136.3 L339.3,137.3 L339.23,138.3 L339.17,139.3 L339.12,140.3 L339.09,141.3 L339.07,142.3 L339.07,143.3 L339.07,144.3 L339.1,145.3 L339.14,146.3 L339.19,147.3 L339.26,148.3 L339.35,149.3 L339.45,150.3 L339.57,151.3 L339.71,152.3 L339.87,153.3 L340.04,154.3 L340.24,155.3 L340.45,156.3 L340.68,157.3 L340.93,158.3 L341.19,159.3 L341.48,160.3 L341.78,161.3 L342.09,162.3 L342.43,163.3 L342.78,164.3 L343.14,165.3 L343.53,166.3 L343.92,167.3 L344.34,168.3 L344.77,169.3 L345.21,170.3 L345.67,171.3 L346.14,172.3 L346.63,173.3 L347.13,174.3 L347.65,175.3 L348.18,176.3 L348.73,177.3 L349.28,178.3 L349.86,179.3 L350.44,180.3 L351.04,181.3 L351.65,182.3 L352.27,183.3 L352.91,184.3 L353.56,185.3 L354.21,186.3 L354.89,187.3 L355.57,188.3 L356.26,189.3 L356.97,190.3 L357.68,191.3 L358.41,192.3 L359.15,193.3 L359.89,194.3 L360.65,195.3 L361.42,196.3 L362.19,197.3 L362.98,198.3 L363.78,199.3 L364.58,200.3 L365.39,201.3 L366.22,202.3 L367.05,203.3 L367.88,204.3 L368.73,205.3 L369.58,206.3 L370.45,207.3 L371.32,208.3 L372.19,209.3 L373.08,210.3 L373.96,211.3 L374.86,212.3 L375.74,213.3 L376.61,214.3 L377.47,215.3 L378.29,216.3 L379.08,217.3 L379.83,218.3 L380.53,219.3 L381.17,220.3 L381.75,221.3 L382.26,222.3 L382.69,223.3 L383.04,224.3 L383.29,225.3 L383.44,226.3 L383.49,227.3 L383.44,228.3 L383.29,229.3 L383.04,230.3 L382.69,231.3 L382.25,232.3 L381.71,233.3 L381.08,234.3 L380.36,235.3 L379.56,236.3 L378.67,237.3 L377.7,238.3 L376.65,239.3 L375.53,240.3 L374.33,241.3 L373.07,242.3 L371.74,243.3 L370.35,244.3 L368.9,245.3 L367.4,246.3 L365.84,247.3 L364.23,248.3 L362.58,249.3 L360.88,250.3 L359.14,251.3 L357.37,252.3 L355.57,253.3 L353.74,254.3 L351.88,255.3 L349.99,256.3 L348.09,257.3 L346.18,258.3 L344.25,259.3 L342.31,260.3 L340.36,261.3 L338.42,262.3 L336.47,263.3 L334.53,264.3 L332.6,265.3 L330.67,266.3 L328.76,267.3 L326.87,268.3 L325,269.3 L323.15,270.3 L321.34,271.3 L319.55,272.3 L317.8,273.3 L316.08,274.3 L314.41,275.3 L312.78,276.3 L311.19,277.3 L309.66,278.3 L308.19,279.3 L306.77,280.3 L305.41,281.3 L304.12,282.3 L302.91,283.3 L301.78,284.3 L300.76,285.3 L299.85,286.3 L299.05,287.3 L298.39,288.3 L297.86,289.3 L297.49,290.3 L297.29,291.3 L297.25,292.3 L297.38,293.3 L297.64,294.3 L297.99,295.3 L298.37,296.3 L298.74,297.3 L299.05,298.3 L299.27,299.3 L299.4,300.3 L299.45,301.3 L299.44,302.3 L299.39,303.3 L299.3,304.3 L299.21,305.3 L299.12,306.3 L299.06,307.3 L299.04,308.3 L299.07,309.3 L299.17,310.3 L299.37,311.3 L299.67,312.3 L300.1,313.3 L300.66,314.3 L301.38,315.3 L302.27,316.3 L303.34,317.3 L304.61,318.3 L306.1,319.3 L307.79,320.3 L309.57,321.3 L311.26,322.3 L312.76,323.3 L314.12,324.3 L315.37,325.3 L316.55,326.3 L317.7,327.3 L318.86,328.3 L320.07,329.3 L321.37,330.3 L322.79,331.3 L324.34,332.3 L325.99,333.3 L327.7,334.3 L329.45,335.3 L331.21,336.3 L332.96,337.3 L334.66,338.3 L336.33,339.3 L338.02,340.3 L339.78,341.3 L341.65,342.3 L343.68,343.3 L345.83,344.3 L348.05,345.3 L350.28,346.3 L352.47,347.3 L354.56,348.3 L356.5,349.3 L357.73,350" fill="none" stroke="#5ab52c" stroke-width="2.0" stroke-linejoin="round" stroke-linecap="round"/>
<path d="M360.9,13.3 L360.88,14.3 L360.87,15.3 L360.87,16.3 L360.87,17.3 L360.88,18.3 L360.89,19.3 L360.91,20.3 L360.93,21.3 L360.96,22.3 L360.99,23.3 L361.03,24.3 L361.08,25.3 L361.12,26.3 L361.18,27.3 L361.23,28.3 L361.29,29.3 L361.36,30.3 L361.43,31.3 L361.51,32.3 L361.58,33.3 L361.67,34.3 L361.75,35.3 L361.84,36.3 L361.93,37.3 L362.03,38.3 L362.13,39.3 L362.24,40.3 L362.34,41.3 L362.45,42.3 L362.56,43.3 L362.68,44.3 L362.8,45.3 L362.92,46.3 L363.04,47.3 L363.17,48.3 L363.3,49.3 L363.43,50.3 L363.56,51.3 L363.7,52.3 L363.84,53.3 L363.98,54.3 L364.12,55.3 L364.26,56.3 L364.4,57.3 L364.55,58.3 L364.7,59.3 L364.85,60.3 L365,61.3 L365.15,62.3 L365.3,63.3 L365.45,64.3 L365.6,65.3 L365.76,66.3 L365.91,67.3 L366.07,68.3 L366.23,69.3 L366.38,70.3 L366.54,71.3 L366.69,72.3 L366.85,73.3 L367.01,74.3 L367.16,75.3 L367.32,76.3 L367.47,77.3 L367.63,78.3 L367.78,79.3 L367.93,80.3 L368.09,81.3 L368.24,82.3 L368.39,83.3 L368.54,84.3 L368.69,85.3 L368.83,86.3 L368.98,87.3 L369.12,88.3 L369.27,89.3 L369.41,90.3 L369.55,91.3 L369.68,92.3 L369.82,93.3 L369.95,94.3 L370.08,95.3 L370.21,96.3 L370.33,97.3 L370.46,98.3 L370.58,99.3 L370.7,100.3 L370.81,101.3 L370.92,102.3 L371.03,103.3 L371.14,104.3 L371.24,105.3 L371.34,106.3 L371.44,107.3 L371.53,108.3 L371.62,109.3 L371.7,110.3 L371.78,111.3 L371.86,112.3 L371.93,113.3 L372,114.3 L372.06,115.3 L372.12,116.3 L372.17,117.3 L372.21,118.3 L372.25,119.3 L372.28,120.3 L372.3,121.3 L372.32,122.3 L372.32,123.3 L372.32,124.3 L372.31,125.3 L372.3,126.3 L372.27,127.3 L372.23,128.3 L372.18,129.3 L372.13,130.3 L372.06,131.3 L371.98,132.3 L371.89,133.3 L371.79,134.3 L371.67,135.3 L371.55,136.3 L371.41,137.3 L371.26,138.3 L371.09,139.3 L370.92,140.3 L370.72,141.3 L370.52,142.3 L370.3,143.3 L370.06,144.3 L369.81,145.3 L369.55,146.3 L369.26,147.3 L368.97,148.3 L368.65,149.3 L368.32,150.3 L367.97,151.3 L367.6,152.3 L367.22,153.3 L366.82,154.3 L366.4,155.3 L365.96,156.3 L365.5,157.3 L365.02,158.3 L364.52,159.3 L364.01,160.3 L363.47,161.3 L362.91,162.3 L362.33,163.3 L361.73,164.3 L361.1,165.3 L360.46,166.3 L359.79,167.3 L359.1,168.3 L358.39,169.3 L357.66,170.3 L356.91,171.3 L356.15,172.3 L355.38,173.3 L354.6,174.3 L353.81,175.3 L353.01,176.3 L352.21,177.3 L351.41,178.3 L350.61,179.3 L349.82,180.3 L349.02,181.3 L348.24,182.3 L347.47,183.3 L346.7,184.3 L345.96,185.3 L345.22,186.3 L344.51,187.3 L343.82,188.3 L343.15,189.3 L342.5,190.3 L341.88,191.3 L341.29,192.3 L340.74,193.3 L340.21,194.3 L339.72,195.3 L339.27,196.3 L338.86,197.3 L338.49,198.3 L338.17,199.3 L337.89,200.3 L337.67,201.3 L337.49,202.3 L337.37,203.3 L337.3,204.3 L337.29,205.3 L337.34,206.3 L337.45,207.3 L337.62,208.3 L337.86,209.3 L338.17,210.3 L338.55,211.3 L339.01,212.3 L339.53,213.3 L340.14,214.3 L340.82,215.3 L341.58,216.3 L342.41,217.3 L343.32,218.3 L344.31,219.3 L345.37,220.3 L346.5,221.3 L347.71,222.3 L348.99,223.3 L350.34,224.3 L351.76,225.3 L353.26,226.3 L354.82,227.3 L356.46,228.3 L358.16,229.3 L359.94,230.3 L361.75,231.3 L363.59,232.3 L365.41,233.3 L367.18,234.3 L368.87,235.3 L370.45,236.3 L371.89,237.3 L373.16,238.3 L374.24,239.3 L375.14,240.3 L375.88,241.3 L376.46,242.3 L376.91,243.3 L377.24,244.3 L377.47,245.3 L377.61,246.3 L377.67,247.3 L377.68,248.3 L377.64,249.3 L377.53,250.3 L377.33,251.3 L377,252.3 L376.51,253.3 L375.84,254.3 L374.95,255.3 L373.84,256.3 L372.53,257.3 L371.05,258.3 L369.42,259.3 L367.65,260.3 L365.77,261.3 L363.82,262.3 L361.79,263.3 L359.73,264.3 L357.66,265.3 L355.58,266.3 L353.54,267.3 L351.55,268.3 L349.63,269.3 L347.77,270.3 L345.97,271.3 L344.22,272.3 L342.49,273.3 L340.79,274.3 L339.09,275.3 L337.4,276.3 L335.7,277.3 L334.01,278.3 L332.33,279.3 L330.67,280.3 L329.03,281.3 L327.42,282.3 L325.84,283.3 L324.3,284.3 L322.81,285.3 L321.37,286.3 L319.98,287.3 L318.65,288.3 L317.39,289.3 L316.2,290.3 L315.09,291.3 L314.06,292.3 L313.12,293.3 L312.28,294.3 L311.54,295.3 L310.9,296.3 L310.36,297.3 L309.92,298.3 L309.55,299.3 L309.24,300.3 L308.97,301.3 L308.72,302.3 L308.48,303.3 L308.23,304.3 L307.96,305.3 L307.65,306.3 L307.28,307.3 L306.87,308.3 L306.46,309.3 L306.07,310.3 L305.74,311.3 L305.5,312.3 L305.38,313.3 L305.42,314.3 L305.65,315.3 L306.1,316.3 L306.8,317.3 L307.79,318.3 L309.09,319.3 L310.67,320.3 L312.36,321.3 L313.97,322.3 L315.35,323.3 L316.49,324.3 L317.48,325.3 L318.38,326.3 L319.28,327.3 L320.24,328.3 L321.26,329.3 L322.37,330.3 L323.57,331.3 L324.87,332.3 L326.27,333.3 L327.77,334.3 L329.35,335.3 L331.01,336.3 L332.74,337.3 L334.52,338.3 L336.36,339.3 L338.24,340.3 L340.15,341.3 L342.09,342.3 L344.04,343.3 L346.02,344.3 L348.01,345.3 L350.03,346.3 L352.07,347.3 L354.14,348.3 L356.24,349.3 L357.74,350" fill="none" stroke="#a34aa5" stroke-width="2.0" stroke-linejoin="round" stroke-linecap="round"/>
<path d="M356.95,13.3 L356.89,14.3 L356.82,15.3 L356.75,16.3 L356.68,17.3 L356.61,18.3 L356.53,19.3 L356.46,20.3 L356.38,21.3 L356.3,22.3 L356.22,23.3 L356.13,24.3 L356.05,25.3 L355.96,26.3 L355.87,27.3 L355.78,28.3 L355.69,29.3 L355.59,30.3 L355.5,31.3 L355.4,32.3 L355.31,33.3 L355.21,34.3 L355.11,35.3 L355,36.3 L354.9,37.3 L354.8,38.3 L354.69,39.3 L354.59,40.3 L354.48,41.3 L354.37,42.3 L354.27,43.3 L354.16,44.3 L354.05,45.3 L353.94,46.3 L353.83,47.3 L353.72,48.3 L353.6,49.3 L353.49,50.3 L353.38,51.3 L353.26,52.3 L353.15,53.3 L353.04,54.3 L352.92,55.3 L352.81,56.3 L352.7,57.3 L352.58,58.3 L352.47,59.3 L352.35,60.3 L352.24,61.3 L352.12,62.3 L352.01,63.3 L351.9,64.3 L351.78,65.3 L351.67,66.3 L351.56,67.3 L351.45,68.3 L351.34,69.3 L351.23,70.3 L351.12,71.3 L351.01,72.3 L350.9,73.3 L350.79,74.3 L350.68,75.3 L350.58,76.3 L350.47,77.3 L350.37,78.3 L350.26,79.3 L350.16,80.3 L350.06,81.3 L349.96,82.3 L349.86,83.3 L349.76,84.3 L349.67,85.3 L349.57,86.3 L349.48,87.3 L349.39,88.3 L349.3,89.3 L349.21,90.3 L349.12,91.3 L349.04,92.3 L348.95,93.3 L348.87,94.3 L348.79,95.3 L348.71,96.3 L348.64,97.3 L348.56,98.3 L348.49,99.3 L348.42,100.3 L348.35,101.3 L348.29,102.3 L348.22,103.3 L348.16,104.3 L348.1,105.3 L348.05,106.3 L348,107.3 L347.95,108.3 L347.9,109.3 L347.87,110.3 L347.84,111.3 L347.81,112.3 L347.8,113.3 L347.79,114.3 L347.79,115.3 L347.8,116.3 L347.82,117.3 L347.86,118.3 L347.9,119.3 L347.96,120.3 L348.03,121.3 L348.12,122.3 L348.22,123.3 L348.33,124.3 L348.46,125.3 L348.61,126.3 L348.78,127.3 L348.96,128.3 L349.16,129.3 L349.39,130.3 L349.63,131.3 L349.89,132.3 L350.18,133.3 L350.49,134.3 L350.82,135.3 L351.17,136.3 L351.54,137.3 L351.93,138.3 L352.33,139.3 L352.76,140.3 L353.2,141.3 L353.66,142.3 L354.13,143.3 L354.61,144.3 L355.11,145.3 L355.61,146.3 L356.13,147.3 L356.66,148.3 L357.19,149.3 L357.74,150.3 L358.29,151.3 L358.84,152.3 L359.4,153.3 L359.97,154.3 L360.54,155.3 L361.1,156.3 L361.67,157.3 L362.24,158.3 L362.81,159.3 L363.38,160.3 L363.94,161.3 L364.5,162.3 L365.05,163.3 L365.6,164.3 L366.13,165.3 L366.66,166.3 L367.19,167.3 L367.7,168.3 L368.19,169.3 L368.68,170.3 L369.15,171.3 L369.61,172.3 L370.05,173.3 L370.48,174.3 L370.89,175.3 L371.28,176.3 L371.64,177.3 L371.99,178.3 L372.31,179.3 L372.6,180.3 L372.86,181.3 L373.09,182.3 L373.28,183.3 L373.44,184.3 L373.56,185.3 L373.63,186.3 L373.66,187.3 L373.65,188.3 L373.59,189.3 L373.48,190.3 L373.32,191.3 L373.1,192.3 L372.83,193.3 L372.49,194.3 L372.1,195.3 L371.64,196.3 L371.11,197.3 L370.52,198.3 L369.86,199.3 L369.13,200.3 L368.33,201.3 L367.47,202.3 L366.56,203.3 L365.6,204.3 L364.61,205.3 L363.57,206.3 L362.51,207.3 L361.42,208.3 L360.32,209.3 L359.21,210.3 L358.1,211.3 L356.98,212.3 L355.88,213.3 L354.78,214.3 L353.71,215.3 L352.67,216.3 L351.65,217.3 L350.68,218.3 L349.75,219.3 L348.87,220.3 L348.05,221.3 L347.29,222.3 L346.6,223.3 L345.98,224.3 L345.45,225.3 L345.01,226.3 L344.65,227.3 L344.4,228.3 L344.26,229.3 L344.23,230.3 L344.33,231.3 L344.58,232.3 L344.98,233.3 L345.55,234.3 L346.31,235.3 L347.27,236.3 L348.44,237.3 L349.84,238.3 L351.47,239.3 L353.35,240.3 L355.42,241.3 L357.6,242.3 L359.79,243.3 L361.9,244.3 L363.9,245.3 L365.78,246.3 L367.52,247.3 L369.14,248.3 L370.63,249.3 L371.99,250.3 L373.21,251.3 L374.29,252.3 L375.24,253.3 L376.04,254.3 L376.7,255.3 L377.21,256.3 L377.57,257.3 L377.78,258.3 L377.84,259.3 L377.74,260.3 L377.48,261.3 L377.07,262.3 L376.52,263.3 L375.83,264.3 L375,265.3 L374.05,266.3 L372.99,267.3 L371.81,268.3 L370.53,269.3 L369.15,270.3 L367.69,271.3 L366.14,272.3 L364.52,273.3 L362.84,274.3 L361.09,275.3 L359.29,276.3 L357.44,277.3 L355.56,278.3 L353.64,279.3 L351.7,280.3 L349.74,281.3 L347.77,282.3 L345.8,283.3 L343.84,284.3 L341.88,285.3 L339.94,286.3 L338.03,287.3 L336.15,288.3 L334.31,289.3 L332.52,290.3 L330.78,291.3 L329.1,292.3 L327.49,293.3 L325.95,294.3 L324.5,295.3 L323.14,296.3 L321.86,297.3 L320.68,298.3 L319.57,299.3 L318.55,300.3 L317.61,301.3 L316.74,302.3 L315.96,303.3 L315.25,304.3 L314.61,305.3 L314.04,306.3 L313.55,307.3 L313.12,308.3 L312.76,309.3 L312.46,310.3 L312.22,311.3 L312.05,312.3 L311.93,313.3 L311.87,314.3 L311.87,315.3 L311.93,316.3 L312.12,317.3 L312.52,318.3 L313.22,319.3 L314.28,320.3 L315.61,321.3 L317.02,322.3 L318.35,323.3 L319.53,324.3 L320.58,325.3 L321.5,326.3 L322.3,327.3 L322.98,328.3 L323.6,329.3 L324.23,330.3 L324.93,331.3 L325.75,332.3 L326.75,333.3 L328,334.3 L329.53,335.3 L331.23,336.3 L333,337.3 L334.74,338.3 L336.43,339.3 L338.12,340.3 L339.86,341.3 L341.72,342.3 L343.72,343.3 L345.84,344.3 L348.03,345.3 L350.24,346.3 L352.42,347.3 L354.51,348.3 L356.47,349.3 L357.74,350" fill="none" stroke="#f0e31c" stroke-width="2.0" stroke-linejoin="round" stroke-linecap="round"/>
<line x1="270.3" y1="13.2" x2="272.3" y2="13.2" stroke="#555" stroke-width="0.9"/>
<line x1="447.3" y1="13.2" x2="445.3" y2="13.2" stroke="#555" stroke-width="0.9"/>
<line x1="270.3" y1="24.41" x2="272.3" y2="24.41" stroke="#555" stroke-width="0.9"/>
<line x1="447.3" y1="24.41" x2="445.3" y2="24.41" stroke="#555" stroke-width="0.9"/>
<line x1="270.3" y1="33.9" x2="272.3" y2="33.9" stroke="#555" stroke-width="0.9"/>
<line x1="447.3" y1="33.9" x2="445.3" y2="33.9" stroke="#555" stroke-width="0.9"/>
<line x1="270.3" y1="42.11" x2="272.3" y2="42.11" stroke="#555" stroke-width="0.9"/>
<line x1="447.3" y1="42.11" x2="445.3" y2="42.11" stroke="#555" stroke-width="0.9"/>
<line x1="270.3" y1="49.35" x2="272.3" y2="49.35" stroke="#555" stroke-width="0.9"/>
<line x1="447.3" y1="49.35" x2="445.3" y2="49.35" stroke="#555" stroke-width="0.9"/>
<line x1="270.3" y1="55.83" x2="273.9" y2="55.83" stroke="#555" stroke-width="0.9"/>
<line x1="447.3" y1="55.83" x2="443.7" y2="55.83" stroke="#555" stroke-width="0.9"/>
<line x1="270.3" y1="98.47" x2="272.3" y2="98.47" stroke="#555" stroke-width="0.9"/>
<line x1="447.3" y1="98.47" x2="445.3" y2="98.47" stroke="#555" stroke-width="0.9"/>
<line x1="270.3" y1="123.41" x2="272.3" y2="123.41" stroke="#555" stroke-width="0.9"/>
<line x1="447.3" y1="123.41" x2="445.3" y2="123.41" stroke="#555" stroke-width="0.9"/>
<line x1="270.3" y1="141.1" x2="272.3" y2="141.1" stroke="#555" stroke-width="0.9"/>
<line x1="447.3" y1="141.1" x2="445.3" y2="141.1" stroke="#555" stroke-width="0.9"/>
<line x1="270.3" y1="154.83" x2="272.3" y2="154.83" stroke="#555" stroke-width="0.9"/>
<line x1="447.3" y1="154.83" x2="445.3" y2="154.83" stroke="#555" stroke-width="0.9"/>
<line x1="270.3" y1="166.04" x2="272.3" y2="166.04" stroke="#555" stroke-width="0.9"/>
<line x1="447.3" y1="166.04" x2="445.3" y2="166.04" stroke="#555" stroke-width="0.9"/>
<line x1="270.3" y1="175.52" x2="272.3" y2="175.52" stroke="#555" stroke-width="0.9"/>
<line x1="447.3" y1="175.52" x2="445.3" y2="175.52" stroke="#555" stroke-width="0.9"/>
<line x1="270.3" y1="183.73" x2="272.3" y2="183.73" stroke="#555" stroke-width="0.9"/>
<line x1="447.3" y1="183.73" x2="445.3" y2="183.73" stroke="#555" stroke-width="0.9"/>
<line x1="270.3" y1="190.98" x2="272.3" y2="190.98" stroke="#555" stroke-width="0.9"/>
<line x1="447.3" y1="190.98" x2="445.3" y2="190.98" stroke="#555" stroke-width="0.9"/>
<line x1="270.3" y1="197.46" x2="273.9" y2="197.46" stroke="#555" stroke-width="0.9"/>
<line x1="447.3" y1="197.46" x2="443.7" y2="197.46" stroke="#555" stroke-width="0.9"/>
<line x1="270.3" y1="240.09" x2="272.3" y2="240.09" stroke="#555" stroke-width="0.9"/>
<line x1="447.3" y1="240.09" x2="445.3" y2="240.09" stroke="#555" stroke-width="0.9"/>
<line x1="270.3" y1="265.03" x2="272.3" y2="265.03" stroke="#555" stroke-width="0.9"/>
<line x1="447.3" y1="265.03" x2="445.3" y2="265.03" stroke="#555" stroke-width="0.9"/>
<line x1="270.3" y1="282.73" x2="272.3" y2="282.73" stroke="#555" stroke-width="0.9"/>
<line x1="447.3" y1="282.73" x2="445.3" y2="282.73" stroke="#555" stroke-width="0.9"/>
<line x1="270.3" y1="296.45" x2="272.3" y2="296.45" stroke="#555" stroke-width="0.9"/>
<line x1="447.3" y1="296.45" x2="445.3" y2="296.45" stroke="#555" stroke-width="0.9"/>
<line x1="270.3" y1="307.67" x2="272.3" y2="307.67" stroke="#555" stroke-width="0.9"/>
<line x1="447.3" y1="307.67" x2="445.3" y2="307.67" stroke="#555" stroke-width="0.9"/>
<line x1="270.3" y1="317.15" x2="272.3" y2="317.15" stroke="#555" stroke-width="0.9"/>
<line x1="447.3" y1="317.15" x2="445.3" y2="317.15" stroke="#555" stroke-width="0.9"/>
<line x1="270.3" y1="325.36" x2="272.3" y2="325.36" stroke="#555" stroke-width="0.9"/>
<line x1="447.3" y1="325.36" x2="445.3" y2="325.36" stroke="#555" stroke-width="0.9"/>
<line x1="270.3" y1="332.61" x2="272.3" y2="332.61" stroke="#555" stroke-width="0.9"/>
<line x1="447.3" y1="332.61" x2="445.3" y2="332.61" stroke="#555" stroke-width="0.9"/>
<line x1="270.3" y1="339.09" x2="273.9" y2="339.09" stroke="#555" stroke-width="0.9"/>
<line x1="447.3" y1="339.09" x2="443.7" y2="339.09" stroke="#555" stroke-width="0.9"/>
<line x1="295.59" y1="13.2" x2="295.59" y2="10" stroke="#7c7c7c" stroke-width="0.9"/>
<line x1="295.59" y1="350.3" x2="295.59" y2="353.5" stroke="#7c7c7c" stroke-width="0.9"/>
<line x1="358.8" y1="13.2" x2="358.8" y2="10" stroke="#7c7c7c" stroke-width="0.9"/>
<line x1="358.8" y1="350.3" x2="358.8" y2="353.5" stroke="#7c7c7c" stroke-width="0.9"/>
<line x1="422.01" y1="13.2" x2="422.01" y2="10" stroke="#7c7c7c" stroke-width="0.9"/>
<line x1="422.01" y1="350.3" x2="422.01" y2="353.5" stroke="#7c7c7c" stroke-width="0.9"/>
<rect x="270.3" y="13.2" width="177" height="337.1" fill="none" stroke="#7c7c7c" stroke-width="1"/>
<text x="295.59" y="357.2" font-size="9" text-anchor="middle" fill="#262626">−0.5</text>
<text x="358.8" y="357.2" font-size="9" text-anchor="middle" fill="#262626">0</text>
<text x="422.01" y="357.2" font-size="9" text-anchor="middle" fill="#262626">0.5</text>
<text x="252" y="61.13" font-family="Liberation Serif" font-size="10.6" fill="#262626" textLength="10.6" lengthAdjust="spacingAndGlyphs">10</text>
<text x="263.3" y="56.43" font-family="Liberation Serif" font-size="7.8" fill="#262626">1</text>
<text x="252" y="202.76" font-family="Liberation Serif" font-size="10.6" fill="#262626" textLength="10.6" lengthAdjust="spacingAndGlyphs">10</text>
<text x="263.3" y="198.06" font-family="Liberation Serif" font-size="7.8" fill="#262626">2</text>
<text x="252" y="344.39" font-family="Liberation Serif" font-size="10.6" fill="#262626" textLength="10.6" lengthAdjust="spacingAndGlyphs">10</text>
<text x="263.3" y="339.69" font-family="Liberation Serif" font-size="7.8" fill="#262626">3</text>
<text x="279.6" y="36.3" font-size="27.5" fill="#000">b</text>
<text x="358.8" y="374.6" font-size="10.5" font-family="Liberation Serif" font-style="italic" text-anchor="middle" fill="#8a8a8a">ϕ</text>
<rect x="394.9" y="21.3" width="45.6" height="51.2" fill="#fff" stroke="#5a5a5a" stroke-width="0.9"/>
<line x1="397.2" y1="27.5" x2="410.4" y2="27.5" stroke="#e41a1c" stroke-width="1.6"/>
<text x="412.5" y="30.6" font-size="8.4" fill="#262626" textLength="25.3" lengthAdjust="spacingAndGlyphs">mode1</text>
<line x1="397.2" y1="37.4" x2="410.4" y2="37.4" stroke="#1c3f9a" stroke-width="1.6"/>
<text x="412.5" y="40.5" font-size="8.4" fill="#262626" textLength="25.3" lengthAdjust="spacingAndGlyphs">mode2</text>
<line x1="397.2" y1="47.3" x2="410.4" y2="47.3" stroke="#5ab52c" stroke-width="1.6"/>
<text x="412.5" y="50.4" font-size="8.4" fill="#262626" textLength="25.3" lengthAdjust="spacingAndGlyphs">mode3</text>
<line x1="397.2" y1="57.2" x2="410.4" y2="57.2" stroke="#a34aa5" stroke-width="1.6"/>
<text x="412.5" y="60.3" font-size="8.4" fill="#262626" textLength="25.3" lengthAdjust="spacingAndGlyphs">mode4</text>
<line x1="397.2" y1="67.1" x2="410.4" y2="67.1" stroke="#f0e31c" stroke-width="1.6"/>
<text x="412.5" y="70.2" font-size="8.4" fill="#262626" textLength="25.3" lengthAdjust="spacingAndGlyphs">mode5</text>
<line x1="503.2" y1="24.41" x2="680" y2="24.41" stroke="#e2e2e2" stroke-width="0.8" stroke-dasharray="1 1.2"/>
<line x1="503.2" y1="33.9" x2="680" y2="33.9" stroke="#e2e2e2" stroke-width="0.8" stroke-dasharray="1 1.2"/>
<line x1="503.2" y1="42.11" x2="680" y2="42.11" stroke="#e2e2e2" stroke-width="0.8" stroke-dasharray="1 1.2"/>
<line x1="503.2" y1="49.35" x2="680" y2="49.35" stroke="#e2e2e2" stroke-width="0.8" stroke-dasharray="1 1.2"/>
<line x1="503.2" y1="98.47" x2="680" y2="98.47" stroke="#e2e2e2" stroke-width="0.8" stroke-dasharray="1 1.2"/>
<line x1="503.2" y1="123.41" x2="680" y2="123.41" stroke="#e2e2e2" stroke-width="0.8" stroke-dasharray="1 1.2"/>
<line x1="503.2" y1="141.1" x2="680" y2="141.1" stroke="#e2e2e2" stroke-width="0.8" stroke-dasharray="1 1.2"/>
<line x1="503.2" y1="154.83" x2="680" y2="154.83" stroke="#e2e2e2" stroke-width="0.8" stroke-dasharray="1 1.2"/>
<line x1="503.2" y1="166.04" x2="680" y2="166.04" stroke="#e2e2e2" stroke-width="0.8" stroke-dasharray="1 1.2"/>
<line x1="503.2" y1="175.52" x2="680" y2="175.52" stroke="#e2e2e2" stroke-width="0.8" stroke-dasharray="1 1.2"/>
<line x1="503.2" y1="183.73" x2="680" y2="183.73" stroke="#e2e2e2" stroke-width="0.8" stroke-dasharray="1 1.2"/>
<line x1="503.2" y1="190.98" x2="680" y2="190.98" stroke="#e2e2e2" stroke-width="0.8" stroke-dasharray="1 1.2"/>
<line x1="503.2" y1="240.09" x2="680" y2="240.09" stroke="#e2e2e2" stroke-width="0.8" stroke-dasharray="1 1.2"/>
<line x1="503.2" y1="265.03" x2="680" y2="265.03" stroke="#e2e2e2" stroke-width="0.8" stroke-dasharray="1 1.2"/>
<line x1="503.2" y1="282.73" x2="680" y2="282.73" stroke="#e2e2e2" stroke-width="0.8" stroke-dasharray="1 1.2"/>
<line x1="503.2" y1="296.45" x2="680" y2="296.45" stroke="#e2e2e2" stroke-width="0.8" stroke-dasharray="1 1.2"/>
<line x1="503.2" y1="307.67" x2="680" y2="307.67" stroke="#e2e2e2" stroke-width="0.8" stroke-dasharray="1 1.2"/>
<line x1="503.2" y1="317.15" x2="680" y2="317.15" stroke="#e2e2e2" stroke-width="0.8" stroke-dasharray="1 1.2"/>
<line x1="503.2" y1="325.36" x2="680" y2="325.36" stroke="#e2e2e2" stroke-width="0.8" stroke-dasharray="1 1.2"/>
<line x1="503.2" y1="332.61" x2="680" y2="332.61" stroke="#e2e2e2" stroke-width="0.8" stroke-dasharray="1 1.2"/>
<line x1="503.2" y1="55.83" x2="680" y2="55.83" stroke="#e6e6e6" stroke-width="0.9"/>
<line x1="503.2" y1="197.46" x2="680" y2="197.46" stroke="#e6e6e6" stroke-width="0.9"/>
<line x1="503.2" y1="339.09" x2="680" y2="339.09" stroke="#e6e6e6" stroke-width="0.9"/>
<line x1="536.35" y1="13.2" x2="536.35" y2="350.3" stroke="#e6e6e6" stroke-width="0.9"/>
<line x1="591.6" y1="13.2" x2="591.6" y2="350.3" stroke="#e6e6e6" stroke-width="0.9"/>
<line x1="646.85" y1="13.2" x2="646.85" y2="350.3" stroke="#e6e6e6" stroke-width="0.9"/>
<path d="M524.81,13.3 L524.88,14.3 L524.94,15.3 L525.01,16.3 L525.07,17.3 L525.12,18.3 L525.18,19.3 L525.23,20.3 L525.27,21.3 L525.32,22.3 L525.36,23.3 L525.39,24.3 L525.43,25.3 L525.46,26.3 L525.48,27.3 L525.51,28.3 L525.53,29.3 L525.55,30.3 L525.57,31.3 L525.59,32.3 L525.6,33.3 L525.61,34.3 L525.62,35.3 L525.63,36.3 L525.63,37.3 L525.64,38.3 L525.64,39.3 L525.64,40.3 L525.64,41.3 L525.64,42.3 L525.63,43.3 L525.63,44.3 L525.62,45.3 L525.62,46.3 L525.61,47.3 L525.6,48.3 L525.6,49.3 L525.59,50.3 L525.58,51.3 L525.57,52.3 L525.56,53.3 L525.55,54.3 L525.54,55.3 L525.53,56.3 L525.52,57.3 L525.51,58.3 L525.5,59.3 L525.49,60.3 L525.48,61.3 L525.48,62.3 L525.47,63.3 L525.46,64.3 L525.46,65.3 L525.45,66.3 L525.45,67.3 L525.45,68.3 L525.45,69.3 L525.45,70.3 L525.46,71.3 L525.46,72.3 L525.47,73.3 L525.47,74.3 L525.48,75.3 L525.5,76.3 L525.51,77.3 L525.53,78.3 L525.55,79.3 L525.57,80.3 L525.59,81.3 L525.62,82.3 L525.65,83.3 L525.68,84.3 L525.71,85.3 L525.75,86.3 L525.79,87.3 L525.84,88.3 L525.89,89.3 L525.94,90.3 L525.99,91.3 L526.05,92.3 L526.11,93.3 L526.18,94.3 L526.25,95.3 L526.32,96.3 L526.4,97.3 L526.48,98.3 L526.57,99.3 L526.66,100.3 L526.75,101.3 L526.85,102.3 L526.95,103.3 L527.06,104.3 L527.18,105.3 L527.3,106.3 L527.42,107.3 L527.55,108.3 L527.68,109.3 L527.82,110.3 L527.97,111.3 L528.12,112.3 L528.28,113.3 L528.44,114.3 L528.61,115.3 L528.78,116.3 L528.96,117.3 L529.15,118.3 L529.34,119.3 L529.54,120.3 L529.75,121.3 L529.96,122.3 L530.18,123.3 L530.4,124.3 L530.63,125.3 L530.87,126.3 L531.12,127.3 L531.37,128.3 L531.63,129.3 L531.9,130.3 L532.18,131.3 L532.46,132.3 L532.75,133.3 L533.05,134.3 L533.36,135.3 L533.67,136.3 L533.99,137.3 L534.32,138.3 L534.66,139.3 L535.01,140.3 L535.37,141.3 L535.74,142.3 L536.12,143.3 L536.51,144.3 L536.92,145.3 L537.33,146.3 L537.76,147.3 L538.19,148.3 L538.64,149.3 L539.11,150.3 L539.58,151.3 L540.07,152.3 L540.58,153.3 L541.1,154.3 L541.63,155.3 L542.18,156.3 L542.74,157.3 L543.32,158.3 L543.92,159.3 L544.53,160.3 L545.16,161.3 L545.8,162.3 L546.47,163.3 L547.15,164.3 L547.85,165.3 L548.56,166.3 L549.3,167.3 L550.05,168.3 L550.82,169.3 L551.59,170.3 L552.38,171.3 L553.18,172.3 L553.99,173.3 L554.8,174.3 L555.61,175.3 L556.43,176.3 L557.24,177.3 L558.06,178.3 L558.87,179.3 L559.68,180.3 L560.48,181.3 L561.27,182.3 L562.06,183.3 L562.83,184.3 L563.58,185.3 L564.33,186.3 L565.05,187.3 L565.76,188.3 L566.44,189.3 L567.11,190.3 L567.75,191.3 L568.36,192.3 L568.96,193.3 L569.53,194.3 L570.08,195.3 L570.61,196.3 L571.13,197.3 L571.63,198.3 L572.12,199.3 L572.6,200.3 L573.07,201.3 L573.53,202.3 L573.99,203.3 L574.44,204.3 L574.89,205.3 L575.35,206.3 L575.8,207.3 L576.26,208.3 L576.73,209.3 L577.2,210.3 L577.68,211.3 L578.17,212.3 L578.68,213.3 L579.2,214.3 L579.74,215.3 L580.29,216.3 L580.87,217.3 L581.47,218.3 L582.09,219.3 L582.73,220.3 L583.41,221.3 L584.11,222.3 L584.85,223.3 L585.62,224.3 L586.44,225.3 L587.31,226.3 L588.24,227.3 L589.25,228.3 L590.33,229.3 L591.5,230.3 L592.77,231.3 L594.13,232.3 L595.56,233.3 L597.04,234.3 L598.54,235.3 L600.03,236.3 L601.49,237.3 L602.9,238.3 L604.23,239.3 L605.46,240.3 L606.59,241.3 L607.63,242.3 L608.59,243.3 L609.45,244.3 L610.24,245.3 L610.96,246.3 L611.6,247.3 L612.17,248.3 L612.69,249.3 L613.14,250.3 L613.54,251.3 L613.9,252.3 L614.2,253.3 L614.47,254.3 L614.7,255.3 L614.9,256.3 L615.06,257.3 L615.19,258.3 L615.29,259.3 L615.35,260.3 L615.39,261.3 L615.4,262.3 L615.39,263.3 L615.35,264.3 L615.28,265.3 L615.2,266.3 L615.09,267.3 L614.97,268.3 L614.82,269.3 L614.66,270.3 L614.48,271.3 L614.29,272.3 L614.09,273.3 L613.87,274.3 L613.64,275.3 L613.41,276.3 L613.16,277.3 L612.91,278.3 L612.65,279.3 L612.39,280.3 L612.13,281.3 L611.87,282.3 L611.6,283.3 L611.34,284.3 L611.08,285.3 L610.82,286.3 L610.57,287.3 L610.32,288.3 L610.08,289.3 L609.85,290.3 L609.63,291.3 L609.41,292.3 L609.2,293.3 L608.99,294.3 L608.79,295.3 L608.6,296.3 L608.42,297.3 L608.24,298.3 L608.06,299.3 L607.89,300.3 L607.73,301.3 L607.57,302.3 L607.41,303.3 L607.26,304.3 L607.12,305.3 L606.98,306.3 L606.85,307.3 L606.71,308.3 L606.59,309.3 L606.46,310.3 L606.34,311.3 L606.23,312.3 L606.12,313.3 L606.01,314.3 L605.9,315.3 L605.8,316.3 L605.7,317.3 L605.6,318.3 L605.5,319.3 L605.41,320.3 L605.32,321.3 L605.23,322.3 L605.14,323.3 L605.06,324.3 L604.97,325.3 L604.89,326.3 L604.81,327.3 L604.73,328.3 L604.65,329.3 L604.57,330.3 L604.49,331.3 L604.41,332.3 L604.34,333.3 L604.26,334.3 L604.18,335.3 L604.1,336.3 L604.02,337.3 L603.94,338.3 L603.87,339.3 L603.78,340.3 L603.7,341.3 L603.62,342.3 L603.54,343.3 L603.45,344.3 L603.36,345.3 L603.27,346.3 L603.18,347.3 L603.09,348.3 L602.99,349.3 L602.89,350.3" fill="none" stroke="#e41a1c" stroke-width="2.0" stroke-linejoin="round" stroke-linecap="round"/>
<path d="M658.09,13.3 L658.08,14.3 L658.08,15.3 L658.08,16.3 L658.08,17.3 L658.08,18.3 L658.08,19.3 L658.08,20.3 L658.08,21.3 L658.08,22.3 L658.08,23.3 L658.08,24.3 L658.08,25.3 L658.08,26.3 L658.08,27.3 L658.07,28.3 L658.07,29.3 L658.07,30.3 L658.06,31.3 L658.06,32.3 L658.05,33.3 L658.05,34.3 L658.04,35.3 L658.03,36.3 L658.02,37.3 L658.01,38.3 L658,39.3 L657.98,40.3 L657.97,41.3 L657.95,42.3 L657.93,43.3 L657.91,44.3 L657.88,45.3 L657.86,46.3 L657.83,47.3 L657.8,48.3 L657.77,49.3 L657.73,50.3 L657.7,51.3 L657.66,52.3 L657.61,53.3 L657.57,54.3 L657.52,55.3 L657.47,56.3 L657.42,57.3 L657.36,58.3 L657.3,59.3 L657.24,60.3 L657.17,61.3 L657.1,62.3 L657.02,63.3 L656.95,64.3 L656.86,65.3 L656.78,66.3 L656.69,67.3 L656.6,68.3 L656.5,69.3 L656.4,70.3 L656.29,71.3 L656.18,72.3 L656.07,73.3 L655.95,74.3 L655.83,75.3 L655.7,76.3 L655.57,77.3 L655.43,78.3 L655.29,79.3 L655.14,80.3 L654.98,81.3 L654.83,82.3 L654.66,83.3 L654.49,84.3 L654.32,85.3 L654.14,86.3 L653.96,87.3 L653.76,88.3 L653.57,89.3 L653.36,90.3 L653.15,91.3 L652.94,92.3 L652.71,93.3 L652.47,94.3 L652.23,95.3 L651.98,96.3 L651.72,97.3 L651.45,98.3 L651.16,99.3 L650.87,100.3 L650.56,101.3 L650.25,102.3 L649.92,103.3 L649.58,104.3 L649.22,105.3 L648.85,106.3 L648.47,107.3 L648.07,108.3 L647.65,109.3 L647.22,110.3 L646.78,111.3 L646.32,112.3 L645.84,113.3 L645.34,114.3 L644.83,115.3 L644.3,116.3 L643.74,117.3 L643.17,118.3 L642.58,119.3 L641.97,120.3 L641.34,121.3 L640.69,122.3 L640.02,123.3 L639.32,124.3 L638.6,125.3 L637.86,126.3 L637.1,127.3 L636.31,128.3 L635.5,129.3 L634.66,130.3 L633.8,131.3 L632.92,132.3 L632.01,133.3 L631.08,134.3 L630.13,135.3 L629.17,136.3 L628.18,137.3 L627.17,138.3 L626.15,139.3 L625.11,140.3 L624.06,141.3 L622.99,142.3 L621.9,143.3 L620.8,144.3 L619.69,145.3 L618.57,146.3 L617.44,147.3 L616.29,148.3 L615.14,149.3 L613.98,150.3 L612.8,151.3 L611.63,152.3 L610.44,153.3 L609.25,154.3 L608.06,155.3 L606.86,156.3 L605.66,157.3 L604.45,158.3 L603.25,159.3 L602.04,160.3 L600.83,161.3 L599.63,162.3 L598.42,163.3 L597.22,164.3 L596.02,165.3 L594.82,166.3 L593.63,167.3 L592.45,168.3 L591.27,169.3 L590.1,170.3 L588.93,171.3 L587.78,172.3 L586.63,173.3 L585.5,174.3 L584.37,175.3 L583.26,176.3 L582.16,177.3 L581.07,178.3 L580,179.3 L578.94,180.3 L577.9,181.3 L576.87,182.3 L575.86,183.3 L574.87,184.3 L573.9,185.3 L572.95,186.3 L572.02,187.3 L571.11,188.3 L570.22,189.3 L569.36,190.3 L568.51,191.3 L567.7,192.3 L566.91,193.3 L566.14,194.3 L565.4,195.3 L564.69,196.3 L564,197.3 L563.33,198.3 L562.68,199.3 L562.04,200.3 L561.41,201.3 L560.79,202.3 L560.17,203.3 L559.55,204.3 L558.92,205.3 L558.28,206.3 L557.63,207.3 L556.97,208.3 L556.29,209.3 L555.58,210.3 L554.85,211.3 L554.09,212.3 L553.29,213.3 L552.46,214.3 L551.59,215.3 L550.67,216.3 L549.71,217.3 L548.71,218.3 L547.7,219.3 L546.69,220.3 L545.72,221.3 L544.79,222.3 L543.93,223.3 L543.17,224.3 L542.52,225.3 L541.97,226.3 L541.53,227.3 L541.21,228.3 L541,229.3 L540.91,230.3 L540.94,231.3 L541.1,232.3 L541.38,233.3 L541.8,234.3 L542.34,235.3 L543.02,236.3 L543.83,237.3 L544.79,238.3 L545.88,239.3 L547.11,240.3 L548.45,241.3 L549.9,242.3 L551.44,243.3 L553.07,244.3 L554.78,245.3 L556.55,246.3 L558.38,247.3 L560.25,248.3 L562.15,249.3 L564.08,250.3 L566.01,251.3 L567.95,252.3 L569.88,253.3 L571.78,254.3 L573.66,255.3 L575.49,256.3 L577.27,257.3 L578.99,258.3 L580.63,259.3 L582.19,260.3 L583.67,261.3 L585.06,262.3 L586.37,263.3 L587.61,264.3 L588.78,265.3 L589.88,266.3 L590.91,267.3 L591.89,268.3 L592.8,269.3 L593.67,270.3 L594.48,271.3 L595.25,272.3 L595.97,273.3 L596.65,274.3 L597.3,275.3 L597.92,276.3 L598.5,277.3 L599.05,278.3 L599.58,279.3 L600.08,280.3 L600.55,281.3 L600.99,282.3 L601.41,283.3 L601.8,284.3 L602.17,285.3 L602.51,286.3 L602.83,287.3 L603.13,288.3 L603.4,289.3 L603.66,290.3 L603.9,291.3 L604.11,292.3 L604.31,293.3 L604.49,294.3 L604.65,295.3 L604.8,296.3 L604.93,297.3 L605.05,298.3 L605.15,299.3 L605.24,300.3 L605.31,301.3 L605.37,302.3 L605.43,303.3 L605.47,304.3 L605.5,305.3 L605.53,306.3 L605.54,307.3 L605.55,308.3 L605.55,309.3 L605.54,310.3 L605.53,311.3 L605.52,312.3 L605.5,313.3 L605.48,314.3 L605.46,315.3 L605.43,316.3 L605.4,317.3 L605.38,318.3 L605.35,319.3 L605.33,320.3 L605.3,321.3 L605.27,322.3 L605.25,323.3 L605.22,324.3 L605.19,325.3 L605.16,326.3 L605.12,327.3 L605.09,328.3 L605.05,329.3 L605.01,330.3 L604.97,331.3 L604.92,332.3 L604.87,333.3 L604.82,334.3 L604.76,335.3 L604.7,336.3 L604.63,337.3 L604.56,338.3 L604.49,339.3 L604.41,340.3 L604.32,341.3 L604.23,342.3 L604.14,343.3 L604.03,344.3 L603.92,345.3 L603.81,346.3 L603.68,347.3 L603.55,348.3 L603.42,349.3 L603.27,350.3" fill="none" stroke="#1c3f9a" stroke-width="2.0" stroke-linejoin="round" stroke-linecap="round"/>
<path d="M525.82,13.3 L525.88,14.3 L525.94,15.3 L525.99,16.3 L526.04,17.3 L526.09,18.3 L526.13,19.3 L526.17,20.3 L526.22,21.3 L526.25,22.3 L526.29,23.3 L526.33,24.3 L526.37,25.3 L526.4,26.3 L526.43,27.3 L526.47,28.3 L526.5,29.3 L526.54,30.3 L526.57,31.3 L526.61,32.3 L526.64,33.3 L526.68,34.3 L526.72,35.3 L526.76,36.3 L526.8,37.3 L526.84,38.3 L526.89,39.3 L526.93,40.3 L526.98,41.3 L527.04,42.3 L527.09,43.3 L527.15,44.3 L527.21,45.3 L527.28,46.3 L527.35,47.3 L527.42,48.3 L527.5,49.3 L527.58,50.3 L527.67,51.3 L527.76,52.3 L527.86,53.3 L527.96,54.3 L528.07,55.3 L528.18,56.3 L528.3,57.3 L528.43,58.3 L528.56,59.3 L528.7,60.3 L528.85,61.3 L529.01,62.3 L529.17,63.3 L529.34,64.3 L529.51,65.3 L529.7,66.3 L529.89,67.3 L530.09,68.3 L530.3,69.3 L530.52,70.3 L530.75,71.3 L530.99,72.3 L531.23,73.3 L531.49,74.3 L531.76,75.3 L532.03,76.3 L532.32,77.3 L532.62,78.3 L532.93,79.3 L533.25,80.3 L533.58,81.3 L533.93,82.3 L534.28,83.3 L534.65,84.3 L535.03,85.3 L535.42,86.3 L535.83,87.3 L536.25,88.3 L536.69,89.3 L537.15,90.3 L537.62,91.3 L538.1,92.3 L538.61,93.3 L539.13,94.3 L539.67,95.3 L540.24,96.3 L540.82,97.3 L541.42,98.3 L542.04,99.3 L542.69,100.3 L543.36,101.3 L544.05,102.3 L544.76,103.3 L545.5,104.3 L546.26,105.3 L547.05,106.3 L547.86,107.3 L548.7,108.3 L549.57,109.3 L550.46,110.3 L551.38,111.3 L552.34,112.3 L553.32,113.3 L554.33,114.3 L555.37,115.3 L556.44,116.3 L557.54,117.3 L558.68,118.3 L559.85,119.3 L561.05,120.3 L562.28,121.3 L563.55,122.3 L564.84,123.3 L566.16,124.3 L567.51,125.3 L568.88,126.3 L570.28,127.3 L571.7,128.3 L573.14,129.3 L574.6,130.3 L576.08,131.3 L577.59,132.3 L579.1,133.3 L580.64,134.3 L582.19,135.3 L583.75,136.3 L585.33,137.3 L586.92,138.3 L588.52,139.3 L590.13,140.3 L591.75,141.3 L593.37,142.3 L595,143.3 L596.63,144.3 L598.27,145.3 L599.91,146.3 L601.55,147.3 L603.19,148.3 L604.83,149.3 L606.47,150.3 L608.11,151.3 L609.74,152.3 L611.36,153.3 L612.98,154.3 L614.59,155.3 L616.18,156.3 L617.76,157.3 L619.32,158.3 L620.85,159.3 L622.36,160.3 L623.83,161.3 L625.27,162.3 L626.67,163.3 L628.02,164.3 L629.33,165.3 L630.58,166.3 L631.78,167.3 L632.92,168.3 L633.99,169.3 L635,170.3 L635.94,171.3 L636.8,172.3 L637.58,173.3 L638.27,174.3 L638.88,175.3 L639.4,176.3 L639.83,177.3 L640.18,178.3 L640.44,179.3 L640.63,180.3 L640.75,181.3 L640.8,182.3 L640.79,183.3 L640.72,184.3 L640.6,185.3 L640.43,186.3 L640.21,187.3 L639.96,188.3 L639.67,189.3 L639.36,190.3 L639.02,191.3 L638.66,192.3 L638.28,193.3 L637.88,194.3 L637.46,195.3 L637.02,196.3 L636.54,197.3 L636.04,198.3 L635.51,199.3 L634.95,200.3 L634.35,201.3 L633.72,202.3 L633.04,203.3 L632.32,204.3 L631.56,205.3 L630.75,206.3 L629.9,207.3 L628.99,208.3 L628.03,209.3 L627.01,210.3 L625.94,211.3 L624.81,212.3 L623.62,213.3 L622.36,214.3 L621.04,215.3 L619.65,216.3 L618.18,217.3 L616.65,218.3 L615.03,219.3 L613.32,220.3 L611.47,221.3 L609.46,222.3 L607.27,223.3 L604.86,224.3 L602.2,225.3 L599.28,226.3 L596.05,227.3 L592.5,228.3 L588.6,229.3 L584.41,230.3 L580.14,231.3 L576,232.3 L572.13,233.3 L568.55,234.3 L565.26,235.3 L562.28,236.3 L559.62,237.3 L557.29,238.3 L555.26,239.3 L553.51,240.3 L552.03,241.3 L550.79,242.3 L549.79,243.3 L548.98,244.3 L548.37,245.3 L547.95,246.3 L547.71,247.3 L547.66,248.3 L547.77,249.3 L548.05,250.3 L548.5,251.3 L549.1,252.3 L549.86,253.3 L550.77,254.3 L551.82,255.3 L553.02,256.3 L554.34,257.3 L555.79,258.3 L557.35,259.3 L558.99,260.3 L560.71,261.3 L562.48,262.3 L564.29,263.3 L566.13,264.3 L567.98,265.3 L569.81,266.3 L571.62,267.3 L573.39,268.3 L575.1,269.3 L576.74,270.3 L578.28,271.3 L579.72,272.3 L581.04,273.3 L582.25,274.3 L583.36,275.3 L584.38,276.3 L585.32,277.3 L586.2,278.3 L587.03,279.3 L587.81,280.3 L588.57,281.3 L589.31,282.3 L590.03,283.3 L590.72,284.3 L591.4,285.3 L592.05,286.3 L592.69,287.3 L593.31,288.3 L593.91,289.3 L594.48,290.3 L595.04,291.3 L595.58,292.3 L596.1,293.3 L596.6,294.3 L597.09,295.3 L597.55,296.3 L598,297.3 L598.42,298.3 L598.83,299.3 L599.22,300.3 L599.6,301.3 L599.95,302.3 L600.29,303.3 L600.61,304.3 L600.91,305.3 L601.2,306.3 L601.47,307.3 L601.72,308.3 L601.96,309.3 L602.19,310.3 L602.4,311.3 L602.59,312.3 L602.77,313.3 L602.94,314.3 L603.09,315.3 L603.24,316.3 L603.37,317.3 L603.48,318.3 L603.59,319.3 L603.69,320.3 L603.77,321.3 L603.85,322.3 L603.91,323.3 L603.96,324.3 L604.01,325.3 L604.05,326.3 L604.07,327.3 L604.09,328.3 L604.11,329.3 L604.11,330.3 L604.11,331.3 L604.1,332.3 L604.09,333.3 L604.07,334.3 L604.04,335.3 L604.01,336.3 L603.98,337.3 L603.94,338.3 L603.89,339.3 L603.85,340.3 L603.8,341.3 L603.74,342.3 L603.69,343.3 L603.63,344.3 L603.57,345.3 L603.52,346.3 L603.46,347.3 L603.4,348.3 L603.34,349.3 L603.28,350.3" fill="none" stroke="#5ab52c" stroke-width="2.0" stroke-linejoin="round" stroke-linecap="round"/>
<path d="M657.63,13.3 L657.56,14.3 L657.49,15.3 L657.43,16.3 L657.37,17.3 L657.32,18.3 L657.27,19.3 L657.21,20.3 L657.16,21.3 L657.12,22.3 L657.07,23.3 L657.02,24.3 L656.97,25.3 L656.92,26.3 L656.87,27.3 L656.82,28.3 L656.77,29.3 L656.72,30.3 L656.66,31.3 L656.61,32.3 L656.54,33.3 L656.48,34.3 L656.41,35.3 L656.34,36.3 L656.26,37.3 L656.18,38.3 L656.09,39.3 L656,40.3 L655.9,41.3 L655.8,42.3 L655.68,43.3 L655.57,44.3 L655.44,45.3 L655.31,46.3 L655.16,47.3 L655.01,48.3 L654.85,49.3 L654.68,50.3 L654.51,51.3 L654.32,52.3 L654.12,53.3 L653.91,54.3 L653.69,55.3 L653.46,56.3 L653.21,57.3 L652.96,58.3 L652.69,59.3 L652.41,60.3 L652.11,61.3 L651.8,62.3 L651.48,63.3 L651.14,64.3 L650.79,65.3 L650.42,66.3 L650.04,67.3 L649.64,68.3 L649.22,69.3 L648.79,70.3 L648.34,71.3 L647.88,72.3 L647.39,73.3 L646.89,74.3 L646.37,75.3 L645.83,76.3 L645.27,77.3 L644.69,78.3 L644.09,79.3 L643.47,80.3 L642.83,81.3 L642.17,82.3 L641.49,83.3 L640.79,84.3 L640.06,85.3 L639.31,86.3 L638.54,87.3 L637.74,88.3 L636.92,89.3 L636.08,90.3 L635.21,91.3 L634.32,92.3 L633.4,93.3 L632.46,94.3 L631.49,95.3 L630.5,96.3 L629.48,97.3 L628.43,98.3 L627.35,99.3 L626.25,100.3 L625.11,101.3 L623.95,102.3 L622.76,103.3 L621.54,104.3 L620.3,105.3 L619.02,106.3 L617.71,107.3 L616.37,108.3 L615,109.3 L613.6,110.3 L612.16,111.3 L610.7,112.3 L609.2,113.3 L607.67,114.3 L606.1,115.3 L604.5,116.3 L602.87,117.3 L601.2,118.3 L599.5,119.3 L597.77,120.3 L596.01,121.3 L594.22,122.3 L592.41,123.3 L590.57,124.3 L588.72,125.3 L586.84,126.3 L584.95,127.3 L583.04,128.3 L581.11,129.3 L579.18,130.3 L577.24,131.3 L575.28,132.3 L573.33,133.3 L571.37,134.3 L569.41,135.3 L567.45,136.3 L565.49,137.3 L563.53,138.3 L561.58,139.3 L559.65,140.3 L557.72,141.3 L555.8,142.3 L553.92,143.3 L552.06,144.3 L550.25,145.3 L548.49,146.3 L546.78,147.3 L545.14,148.3 L543.58,149.3 L542.09,150.3 L540.7,151.3 L539.4,152.3 L538.21,153.3 L537.14,154.3 L536.18,155.3 L535.33,156.3 L534.6,157.3 L533.97,158.3 L533.46,159.3 L533.06,160.3 L532.76,161.3 L532.58,162.3 L532.5,163.3 L532.52,164.3 L532.65,165.3 L532.88,166.3 L533.21,167.3 L533.65,168.3 L534.18,169.3 L534.82,170.3 L535.55,171.3 L536.38,172.3 L537.3,173.3 L538.32,174.3 L539.43,175.3 L540.64,176.3 L541.93,177.3 L543.32,178.3 L544.8,179.3 L546.36,180.3 L548.01,181.3 L549.75,182.3 L551.58,183.3 L553.49,184.3 L555.47,185.3 L557.5,186.3 L559.55,187.3 L561.59,188.3 L563.59,189.3 L565.53,190.3 L567.38,191.3 L569.14,192.3 L570.81,193.3 L572.42,194.3 L573.97,195.3 L575.47,196.3 L576.94,197.3 L578.39,198.3 L579.84,199.3 L581.29,200.3 L582.76,201.3 L584.27,202.3 L585.81,203.3 L587.42,204.3 L589.09,205.3 L590.85,206.3 L592.69,207.3 L594.61,208.3 L596.6,209.3 L598.68,210.3 L600.83,211.3 L603.05,212.3 L605.33,213.3 L607.69,214.3 L610.11,215.3 L612.59,216.3 L615.14,217.3 L617.73,218.3 L620.33,219.3 L622.93,220.3 L625.48,221.3 L627.96,222.3 L630.33,223.3 L632.57,224.3 L634.64,225.3 L636.51,226.3 L638.16,227.3 L639.54,228.3 L640.63,229.3 L641.41,230.3 L641.83,231.3 L641.86,232.3 L641.49,233.3 L640.67,234.3 L639.37,235.3 L637.57,236.3 L635.23,237.3 L632.32,238.3 L628.8,239.3 L624.63,240.3 L619.76,241.3 L614.16,242.3 L607.81,243.3 L600.98,244.3 L594.12,245.3 L587.69,246.3 L582.07,247.3 L577.28,248.3 L573.22,249.3 L569.79,250.3 L566.9,251.3 L564.44,252.3 L562.38,253.3 L560.68,254.3 L559.34,255.3 L558.31,256.3 L557.59,257.3 L557.14,258.3 L556.94,259.3 L556.97,260.3 L557.21,261.3 L557.62,262.3 L558.2,263.3 L558.91,264.3 L559.73,265.3 L560.65,266.3 L561.65,267.3 L562.73,268.3 L563.87,269.3 L565.06,270.3 L566.29,271.3 L567.54,272.3 L568.81,273.3 L570.08,274.3 L571.35,275.3 L572.59,276.3 L573.8,277.3 L574.97,278.3 L576.08,279.3 L577.12,280.3 L578.11,281.3 L579.04,282.3 L579.92,283.3 L580.77,284.3 L581.58,285.3 L582.36,286.3 L583.13,287.3 L583.88,288.3 L584.63,289.3 L585.38,290.3 L586.13,291.3 L586.88,292.3 L587.64,293.3 L588.4,294.3 L589.15,295.3 L589.89,296.3 L590.63,297.3 L591.36,298.3 L592.08,299.3 L592.78,300.3 L593.47,301.3 L594.14,302.3 L594.8,303.3 L595.43,304.3 L596.04,305.3 L596.62,306.3 L597.18,307.3 L597.71,308.3 L598.21,309.3 L598.68,310.3 L599.13,311.3 L599.55,312.3 L599.94,313.3 L600.31,314.3 L600.66,315.3 L600.98,316.3 L601.28,317.3 L601.56,318.3 L601.81,319.3 L602.05,320.3 L602.27,321.3 L602.46,322.3 L602.64,323.3 L602.8,324.3 L602.94,325.3 L603.07,326.3 L603.18,327.3 L603.27,328.3 L603.36,329.3 L603.42,330.3 L603.48,331.3 L603.52,332.3 L603.55,333.3 L603.57,334.3 L603.57,335.3 L603.57,336.3 L603.56,337.3 L603.54,338.3 L603.52,339.3 L603.48,340.3 L603.44,341.3 L603.4,342.3 L603.35,343.3 L603.3,344.3 L603.24,345.3 L603.18,346.3 L603.12,347.3 L603.05,348.3 L602.99,349.3 L602.92,350.3" fill="none" stroke="#a34aa5" stroke-width="2.0" stroke-linejoin="round" stroke-linecap="round"/>
<path d="M526.13,13.3 L526.28,14.3 L526.43,15.3 L526.58,16.3 L526.73,17.3 L526.87,18.3 L527.01,19.3 L527.14,20.3 L527.28,21.3 L527.42,22.3 L527.55,23.3 L527.69,24.3 L527.82,25.3 L527.96,26.3 L528.09,27.3 L528.23,28.3 L528.37,29.3 L528.51,30.3 L528.65,31.3 L528.8,32.3 L528.95,33.3 L529.11,34.3 L529.26,35.3 L529.43,36.3 L529.6,37.3 L529.77,38.3 L529.95,39.3 L530.13,40.3 L530.33,41.3 L530.52,42.3 L530.73,43.3 L530.94,44.3 L531.17,45.3 L531.4,46.3 L531.64,47.3 L531.89,48.3 L532.14,49.3 L532.41,50.3 L532.69,51.3 L532.98,52.3 L533.29,53.3 L533.6,54.3 L533.92,55.3 L534.26,56.3 L534.61,57.3 L534.98,58.3 L535.36,59.3 L535.75,60.3 L536.16,61.3 L536.58,62.3 L537.02,63.3 L537.47,64.3 L537.94,65.3 L538.42,66.3 L538.93,67.3 L539.45,68.3 L539.99,69.3 L540.54,70.3 L541.12,71.3 L541.72,72.3 L542.33,73.3 L542.97,74.3 L543.64,75.3 L544.33,76.3 L545.04,77.3 L545.78,78.3 L546.54,79.3 L547.33,80.3 L548.15,81.3 L549,82.3 L549.88,83.3 L550.79,84.3 L551.73,85.3 L552.71,86.3 L553.71,87.3 L554.75,88.3 L555.83,89.3 L556.94,90.3 L558.09,91.3 L559.29,92.3 L560.52,93.3 L561.79,94.3 L563.11,95.3 L564.48,96.3 L565.9,97.3 L567.37,98.3 L568.89,99.3 L570.47,100.3 L572.11,101.3 L573.8,102.3 L575.56,103.3 L577.37,104.3 L579.24,105.3 L581.16,106.3 L583.1,107.3 L585.08,108.3 L587.07,109.3 L589.07,110.3 L591.07,111.3 L593.07,112.3 L595.06,113.3 L597.05,114.3 L599.04,115.3 L601.03,116.3 L603.01,117.3 L605,118.3 L606.98,119.3 L608.97,120.3 L610.95,121.3 L612.94,122.3 L614.92,123.3 L616.91,124.3 L618.9,125.3 L620.89,126.3 L622.88,127.3 L624.88,128.3 L626.86,129.3 L628.84,130.3 L630.79,131.3 L632.72,132.3 L634.61,133.3 L636.46,134.3 L638.27,135.3 L640.02,136.3 L641.71,137.3 L643.33,138.3 L644.87,139.3 L646.34,140.3 L647.71,141.3 L648.99,142.3 L650.16,143.3 L651.23,144.3 L652.17,145.3 L653,146.3 L653.69,147.3 L654.25,148.3 L654.66,149.3 L654.92,150.3 L655.02,151.3 L654.96,152.3 L654.72,153.3 L654.3,154.3 L653.7,155.3 L652.91,156.3 L651.92,157.3 L650.72,158.3 L649.3,159.3 L647.69,160.3 L645.92,161.3 L644.06,162.3 L642.14,163.3 L640.21,164.3 L638.3,165.3 L636.34,166.3 L634.27,167.3 L632.02,168.3 L629.57,169.3 L626.95,170.3 L624.21,171.3 L621.4,172.3 L618.56,173.3 L615.75,174.3 L612.98,175.3 L610.25,176.3 L607.55,177.3 L604.88,178.3 L602.22,179.3 L599.58,180.3 L596.94,181.3 L594.3,182.3 L591.66,183.3 L588.99,184.3 L586.31,185.3 L583.59,186.3 L580.84,187.3 L578.1,188.3 L575.4,189.3 L572.78,190.3 L570.27,191.3 L567.92,192.3 L565.71,193.3 L563.65,194.3 L561.73,195.3 L559.94,196.3 L558.28,197.3 L556.73,198.3 L555.29,199.3 L553.95,200.3 L552.7,201.3 L551.55,202.3 L550.48,203.3 L549.51,204.3 L548.65,205.3 L547.91,206.3 L547.28,207.3 L546.78,208.3 L546.42,209.3 L546.2,210.3 L546.13,211.3 L546.21,212.3 L546.46,213.3 L546.88,214.3 L547.48,215.3 L548.27,216.3 L549.27,217.3 L550.51,218.3 L552.05,219.3 L553.91,220.3 L556.13,221.3 L558.75,222.3 L561.81,223.3 L565.34,224.3 L569.37,225.3 L573.8,226.3 L578.54,227.3 L583.47,228.3 L588.51,229.3 L593.61,230.3 L598.72,231.3 L603.79,232.3 L608.76,233.3 L613.6,234.3 L618.32,235.3 L622.88,236.3 L627.26,237.3 L631.31,238.3 L634.88,239.3 L637.78,240.3 L639.86,241.3 L640.96,242.3 L641.09,243.3 L640.26,244.3 L638.5,245.3 L635.82,246.3 L632.26,247.3 L628,248.3 L623.21,249.3 L618.11,250.3 L612.89,251.3 L607.73,252.3 L602.72,253.3 L597.88,254.3 L593.25,255.3 L588.87,256.3 L584.77,257.3 L580.98,258.3 L577.54,259.3 L574.48,260.3 L571.83,261.3 L569.64,262.3 L567.91,263.3 L566.59,264.3 L565.63,265.3 L564.96,266.3 L564.53,267.3 L564.27,268.3 L564.13,269.3 L564.08,270.3 L564.1,271.3 L564.21,272.3 L564.38,273.3 L564.63,274.3 L564.94,275.3 L565.31,276.3 L565.75,277.3 L566.24,278.3 L566.78,279.3 L567.37,280.3 L568.01,281.3 L568.68,282.3 L569.4,283.3 L570.15,284.3 L570.94,285.3 L571.75,286.3 L572.58,287.3 L573.44,288.3 L574.31,289.3 L575.2,290.3 L576.1,291.3 L577.01,292.3 L577.92,293.3 L578.83,294.3 L579.73,295.3 L580.63,296.3 L581.53,297.3 L582.41,298.3 L583.29,299.3 L584.15,300.3 L585.01,301.3 L585.86,302.3 L586.69,303.3 L587.51,304.3 L588.32,305.3 L589.11,306.3 L589.89,307.3 L590.65,308.3 L591.39,309.3 L592.12,310.3 L592.82,311.3 L593.51,312.3 L594.18,313.3 L594.82,314.3 L595.45,315.3 L596.05,316.3 L596.62,317.3 L597.17,318.3 L597.7,319.3 L598.2,320.3 L598.67,321.3 L599.11,322.3 L599.53,323.3 L599.91,324.3 L600.27,325.3 L600.59,326.3 L600.89,327.3 L601.15,328.3 L601.39,329.3 L601.6,330.3 L601.79,331.3 L601.95,332.3 L602.09,333.3 L602.21,334.3 L602.3,335.3 L602.38,336.3 L602.43,337.3 L602.47,338.3 L602.49,339.3 L602.5,340.3 L602.49,341.3 L602.46,342.3 L602.42,343.3 L602.38,344.3 L602.32,345.3 L602.25,346.3 L602.17,347.3 L602.08,348.3 L601.99,349.3 L601.89,350.3" fill="none" stroke="#f0e31c" stroke-width="2.0" stroke-linejoin="round" stroke-linecap="round"/>
<line x1="503.2" y1="13.2" x2="505.2" y2="13.2" stroke="#555" stroke-width="0.9"/>
<line x1="680" y1="13.2" x2="678" y2="13.2" stroke="#555" stroke-width="0.9"/>
<line x1="503.2" y1="24.41" x2="505.2" y2="24.41" stroke="#555" stroke-width="0.9"/>
<line x1="680" y1="24.41" x2="678" y2="24.41" stroke="#555" stroke-width="0.9"/>
<line x1="503.2" y1="33.9" x2="505.2" y2="33.9" stroke="#555" stroke-width="0.9"/>
<line x1="680" y1="33.9" x2="678" y2="33.9" stroke="#555" stroke-width="0.9"/>
<line x1="503.2" y1="42.11" x2="505.2" y2="42.11" stroke="#555" stroke-width="0.9"/>
<line x1="680" y1="42.11" x2="678" y2="42.11" stroke="#555" stroke-width="0.9"/>
<line x1="503.2" y1="49.35" x2="505.2" y2="49.35" stroke="#555" stroke-width="0.9"/>
<line x1="680" y1="49.35" x2="678" y2="49.35" stroke="#555" stroke-width="0.9"/>
<line x1="503.2" y1="55.83" x2="506.8" y2="55.83" stroke="#555" stroke-width="0.9"/>
<line x1="680" y1="55.83" x2="676.4" y2="55.83" stroke="#555" stroke-width="0.9"/>
<line x1="503.2" y1="98.47" x2="505.2" y2="98.47" stroke="#555" stroke-width="0.9"/>
<line x1="680" y1="98.47" x2="678" y2="98.47" stroke="#555" stroke-width="0.9"/>
<line x1="503.2" y1="123.41" x2="505.2" y2="123.41" stroke="#555" stroke-width="0.9"/>
<line x1="680" y1="123.41" x2="678" y2="123.41" stroke="#555" stroke-width="0.9"/>
<line x1="503.2" y1="141.1" x2="505.2" y2="141.1" stroke="#555" stroke-width="0.9"/>
<line x1="680" y1="141.1" x2="678" y2="141.1" stroke="#555" stroke-width="0.9"/>
<line x1="503.2" y1="154.83" x2="505.2" y2="154.83" stroke="#555" stroke-width="0.9"/>
<line x1="680" y1="154.83" x2="678" y2="154.83" stroke="#555" stroke-width="0.9"/>
<line x1="503.2" y1="166.04" x2="505.2" y2="166.04" stroke="#555" stroke-width="0.9"/>
<line x1="680" y1="166.04" x2="678" y2="166.04" stroke="#555" stroke-width="0.9"/>
<line x1="503.2" y1="175.52" x2="505.2" y2="175.52" stroke="#555" stroke-width="0.9"/>
<line x1="680" y1="175.52" x2="678" y2="175.52" stroke="#555" stroke-width="0.9"/>
<line x1="503.2" y1="183.73" x2="505.2" y2="183.73" stroke="#555" stroke-width="0.9"/>
<line x1="680" y1="183.73" x2="678" y2="183.73" stroke="#555" stroke-width="0.9"/>
<line x1="503.2" y1="190.98" x2="505.2" y2="190.98" stroke="#555" stroke-width="0.9"/>
<line x1="680" y1="190.98" x2="678" y2="190.98" stroke="#555" stroke-width="0.9"/>
<line x1="503.2" y1="197.46" x2="506.8" y2="197.46" stroke="#555" stroke-width="0.9"/>
<line x1="680" y1="197.46" x2="676.4" y2="197.46" stroke="#555" stroke-width="0.9"/>
<line x1="503.2" y1="240.09" x2="505.2" y2="240.09" stroke="#555" stroke-width="0.9"/>
<line x1="680" y1="240.09" x2="678" y2="240.09" stroke="#555" stroke-width="0.9"/>
<line x1="503.2" y1="265.03" x2="505.2" y2="265.03" stroke="#555" stroke-width="0.9"/>
<line x1="680" y1="265.03" x2="678" y2="265.03" stroke="#555" stroke-width="0.9"/>
<line x1="503.2" y1="282.73" x2="505.2" y2="282.73" stroke="#555" stroke-width="0.9"/>
<line x1="680" y1="282.73" x2="678" y2="282.73" stroke="#555" stroke-width="0.9"/>
<line x1="503.2" y1="296.45" x2="505.2" y2="296.45" stroke="#555" stroke-width="0.9"/>
<line x1="680" y1="296.45" x2="678" y2="296.45" stroke="#555" stroke-width="0.9"/>
<line x1="503.2" y1="307.67" x2="505.2" y2="307.67" stroke="#555" stroke-width="0.9"/>
<line x1="680" y1="307.67" x2="678" y2="307.67" stroke="#555" stroke-width="0.9"/>
<line x1="503.2" y1="317.15" x2="505.2" y2="317.15" stroke="#555" stroke-width="0.9"/>
<line x1="680" y1="317.15" x2="678" y2="317.15" stroke="#555" stroke-width="0.9"/>
<line x1="503.2" y1="325.36" x2="505.2" y2="325.36" stroke="#555" stroke-width="0.9"/>
<line x1="680" y1="325.36" x2="678" y2="325.36" stroke="#555" stroke-width="0.9"/>
<line x1="503.2" y1="332.61" x2="505.2" y2="332.61" stroke="#555" stroke-width="0.9"/>
<line x1="680" y1="332.61" x2="678" y2="332.61" stroke="#555" stroke-width="0.9"/>
<line x1="503.2" y1="339.09" x2="506.8" y2="339.09" stroke="#555" stroke-width="0.9"/>
<line x1="680" y1="339.09" x2="676.4" y2="339.09" stroke="#555" stroke-width="0.9"/>
<line x1="536.35" y1="13.2" x2="536.35" y2="10" stroke="#7c7c7c" stroke-width="0.9"/>
<line x1="536.35" y1="350.3" x2="536.35" y2="353.5" stroke="#7c7c7c" stroke-width="0.9"/>
<line x1="591.6" y1="13.2" x2="591.6" y2="10" stroke="#7c7c7c" stroke-width="0.9"/>
<line x1="591.6" y1="350.3" x2="591.6" y2="353.5" stroke="#7c7c7c" stroke-width="0.9"/>
<line x1="646.85" y1="13.2" x2="646.85" y2="10" stroke="#7c7c7c" stroke-width="0.9"/>
<line x1="646.85" y1="350.3" x2="646.85" y2="353.5" stroke="#7c7c7c" stroke-width="0.9"/>
<rect x="503.2" y="13.2" width="176.8" height="337.1" fill="none" stroke="#7c7c7c" stroke-width="1"/>
<text x="536.35" y="357.2" font-size="9" text-anchor="middle" fill="#262626">−5</text>
<text x="591.6" y="357.2" font-size="9" text-anchor="middle" fill="#262626">0</text>
<text x="646.85" y="357.2" font-size="9" text-anchor="middle" fill="#262626">5</text>
<text x="484.9" y="61.13" font-family="Liberation Serif" font-size="10.6" fill="#262626" textLength="10.6" lengthAdjust="spacingAndGlyphs">10</text>
<text x="496.2" y="56.43" font-family="Liberation Serif" font-size="7.8" fill="#262626">1</text>
<text x="484.9" y="202.76" font-family="Liberation Serif" font-size="10.6" fill="#262626" textLength="10.6" lengthAdjust="spacingAndGlyphs">10</text>
<text x="496.2" y="198.06" font-family="Liberation Serif" font-size="7.8" fill="#262626">2</text>
<text x="484.9" y="344.39" font-family="Liberation Serif" font-size="10.6" fill="#262626" textLength="10.6" lengthAdjust="spacingAndGlyphs">10</text>
<text x="496.2" y="339.69" font-family="Liberation Serif" font-size="7.8" fill="#262626">3</text>
<text x="506.3" y="37.0" font-size="29.5" fill="#000">c</text>
<text x="576.6" y="374.3" font-size="9.8" fill="#262626" textLength="28.6" lengthAdjust="spacingAndGlyphs">d<tspan font-family="Liberation Serif" font-style="italic" fill="#8a8a8a">ϕ</tspan>/dz</text>
<text x="652.9" y="375.6" font-size="9.6" fill="#555">×</text>
<text x="660.3" y="375.8" font-family="Liberation Serif" font-size="9.6" fill="#262626">10</text>
<text x="671.1" y="371.7" font-size="8" fill="#262626">−3</text>
<rect x="627.4" y="291.2" width="46.4" height="51.2" fill="#fff" stroke="#5a5a5a" stroke-width="0.9"/>
<line x1="629.5" y1="297" x2="643.2" y2="297" stroke="#e41a1c" stroke-width="1.6"/>
<text x="644.9" y="300.1" font-size="8.4" fill="#262626" textLength="25.3" lengthAdjust="spacingAndGlyphs">mode1</text>
<line x1="629.5" y1="306.93" x2="643.2" y2="306.93" stroke="#1c3f9a" stroke-width="1.6"/>
<text x="644.9" y="310.03" font-size="8.4" fill="#262626" textLength="25.3" lengthAdjust="spacingAndGlyphs">mode2</text>
<line x1="629.5" y1="316.86" x2="643.2" y2="316.86" stroke="#5ab52c" stroke-width="1.6"/>
<text x="644.9" y="319.96" font-size="8.4" fill="#262626" textLength="25.3" lengthAdjust="spacingAndGlyphs">mode3</text>
<line x1="629.5" y1="326.79" x2="643.2" y2="326.79" stroke="#a34aa5" stroke-width="1.6"/>
<text x="644.9" y="329.89" font-size="8.4" fill="#262626" textLength="25.3" lengthAdjust="spacingAndGlyphs">mode4</text>
<line x1="629.5" y1="336.72" x2="643.2" y2="336.72" stroke="#f0e31c" stroke-width="1.6"/>
<text x="644.9" y="339.82" font-size="8.4" fill="#262626" textLength="25.3" lengthAdjust="spacingAndGlyphs">mode5</text>
<line x1="125.47" y1="411.3" x2="125.47" y2="692.9" stroke="#e6e6e6" stroke-width="0.9"/>
<line x1="218.43" y1="411.3" x2="218.43" y2="692.9" stroke="#e6e6e6" stroke-width="0.9"/>
<line x1="32.5" y1="664.74" x2="311.4" y2="664.74" stroke="#e6e6e6" stroke-width="0.9"/>
<line x1="32.5" y1="636.58" x2="311.4" y2="636.58" stroke="#e6e6e6" stroke-width="0.9"/>
<line x1="32.5" y1="608.42" x2="311.4" y2="608.42" stroke="#e6e6e6" stroke-width="0.9"/>
<line x1="32.5" y1="580.26" x2="311.4" y2="580.26" stroke="#e6e6e6" stroke-width="0.9"/>
<line x1="32.5" y1="552.1" x2="311.4" y2="552.1" stroke="#e6e6e6" stroke-width="0.9"/>
<line x1="32.5" y1="523.94" x2="311.4" y2="523.94" stroke="#e6e6e6" stroke-width="0.9"/>
<line x1="32.5" y1="495.78" x2="311.4" y2="495.78" stroke="#e6e6e6" stroke-width="0.9"/>
<line x1="32.5" y1="467.62" x2="311.4" y2="467.62" stroke="#e6e6e6" stroke-width="0.9"/>
<line x1="32.5" y1="439.46" x2="311.4" y2="439.46" stroke="#e6e6e6" stroke-width="0.9"/>
<clipPath id="hc"><rect x="32.5" y="523.94" width="278.1" height="28.16"/></clipPath>
<path d="M-49.42,552.1 L-21.26,523.94 M-41.55,552.1 L-13.39,523.94 M-33.68,552.1 L-5.52,523.94 M-25.81,552.1 L2.35,523.94 M-17.94,552.1 L10.22,523.94 M-10.07,552.1 L18.09,523.94 M-2.2,552.1 L25.96,523.94 M5.67,552.1 L33.83,523.94 M13.54,552.1 L41.7,523.94 M21.41,552.1 L49.57,523.94 M29.28,552.1 L57.44,523.94 M37.15,552.1 L65.31,523.94 M45.02,552.1 L73.18,523.94 M52.89,552.1 L81.05,523.94 M60.76,552.1 L88.92,523.94 M68.63,552.1 L96.79,523.94 M76.5,552.1 L104.66,523.94 M84.37,552.1 L112.53,523.94 M92.24,552.1 L120.4,523.94 M100.11,552.1 L128.27,523.94 M107.98,552.1 L136.14,523.94 M115.85,552.1 L144.01,523.94 M123.72,552.1 L151.88,523.94 M131.59,552.1 L159.75,523.94 M139.46,552.1 L167.62,523.94 M147.33,552.1 L175.49,523.94 M155.2,552.1 L183.36,523.94 M163.07,552.1 L191.23,523.94 M170.94,552.1 L199.1,523.94 M178.81,552.1 L206.97,523.94 M186.68,552.1 L214.84,523.94 M194.55,552.1 L222.71,523.94 M202.42,552.1 L230.58,523.94 M210.29,552.1 L238.45,523.94 M218.16,552.1 L246.32,523.94 M226.03,552.1 L254.19,523.94 M233.9,552.1 L262.06,523.94 M241.77,552.1 L269.93,523.94 M249.64,552.1 L277.8,523.94 M257.51,552.1 L285.67,523.94 M265.38,552.1 L293.54,523.94 M273.25,552.1 L301.41,523.94 M281.12,552.1 L309.28,523.94 M288.99,552.1 L317.15,523.94 M296.86,552.1 L325.02,523.94 M304.73,552.1 L332.89,523.94 M312.6,552.1 L340.76,523.94" stroke="#8c8c8c" stroke-width="0.75" fill="none" clip-path="url(#hc)"/>
<line x1="32.5" y1="552.5" x2="311.4" y2="552.5" stroke="#b4b4b4" stroke-width="1.2"/>
<rect x="32.5" y="411.3" width="278.9" height="281.6" fill="none" stroke="#b2b2b2" stroke-width="1.05"/>
<line x1="32.9" y1="411.3" x2="32.9" y2="692.9" stroke="#d4d4d4" stroke-width="1.9"/>
<line x1="32.5" y1="693.1" x2="311.4" y2="693.1" stroke="#cdcdcd" stroke-width="1.3"/>
<line x1="32.5" y1="692.9" x2="32.5" y2="690.9" stroke="#777" stroke-width="0.8"/>
<line x1="32.5" y1="411.3" x2="32.5" y2="413.3" stroke="#777" stroke-width="0.8"/>
<line x1="51.09" y1="692.9" x2="51.09" y2="690.9" stroke="#777" stroke-width="0.8"/>
<line x1="51.09" y1="411.3" x2="51.09" y2="413.3" stroke="#777" stroke-width="0.8"/>
<line x1="69.69" y1="692.9" x2="69.69" y2="690.9" stroke="#777" stroke-width="0.8"/>
<line x1="69.69" y1="411.3" x2="69.69" y2="413.3" stroke="#777" stroke-width="0.8"/>
<line x1="88.28" y1="692.9" x2="88.28" y2="690.9" stroke="#777" stroke-width="0.8"/>
<line x1="88.28" y1="411.3" x2="88.28" y2="413.3" stroke="#777" stroke-width="0.8"/>
<line x1="106.87" y1="692.9" x2="106.87" y2="690.9" stroke="#777" stroke-width="0.8"/>
<line x1="106.87" y1="411.3" x2="106.87" y2="413.3" stroke="#777" stroke-width="0.8"/>
<line x1="125.47" y1="692.9" x2="125.47" y2="690.9" stroke="#777" stroke-width="0.8"/>
<line x1="125.47" y1="411.3" x2="125.47" y2="413.3" stroke="#777" stroke-width="0.8"/>
<line x1="144.06" y1="692.9" x2="144.06" y2="690.9" stroke="#777" stroke-width="0.8"/>
<line x1="144.06" y1="411.3" x2="144.06" y2="413.3" stroke="#777" stroke-width="0.8"/>
<line x1="162.65" y1="692.9" x2="162.65" y2="690.9" stroke="#777" stroke-width="0.8"/>
<line x1="162.65" y1="411.3" x2="162.65" y2="413.3" stroke="#777" stroke-width="0.8"/>
<line x1="181.25" y1="692.9" x2="181.25" y2="690.9" stroke="#777" stroke-width="0.8"/>
<line x1="181.25" y1="411.3" x2="181.25" y2="413.3" stroke="#777" stroke-width="0.8"/>
<line x1="199.84" y1="692.9" x2="199.84" y2="690.9" stroke="#777" stroke-width="0.8"/>
<line x1="199.84" y1="411.3" x2="199.84" y2="413.3" stroke="#777" stroke-width="0.8"/>
<line x1="218.43" y1="692.9" x2="218.43" y2="690.9" stroke="#777" stroke-width="0.8"/>
<line x1="218.43" y1="411.3" x2="218.43" y2="413.3" stroke="#777" stroke-width="0.8"/>
<line x1="237.03" y1="692.9" x2="237.03" y2="690.9" stroke="#777" stroke-width="0.8"/>
<line x1="237.03" y1="411.3" x2="237.03" y2="413.3" stroke="#777" stroke-width="0.8"/>
<line x1="255.62" y1="692.9" x2="255.62" y2="690.9" stroke="#777" stroke-width="0.8"/>
<line x1="255.62" y1="411.3" x2="255.62" y2="413.3" stroke="#777" stroke-width="0.8"/>
<line x1="274.21" y1="692.9" x2="274.21" y2="690.9" stroke="#777" stroke-width="0.8"/>
<line x1="274.21" y1="411.3" x2="274.21" y2="413.3" stroke="#777" stroke-width="0.8"/>
<line x1="292.81" y1="692.9" x2="292.81" y2="690.9" stroke="#777" stroke-width="0.8"/>
<line x1="292.81" y1="411.3" x2="292.81" y2="413.3" stroke="#777" stroke-width="0.8"/>
<line x1="311.4" y1="692.9" x2="311.4" y2="690.9" stroke="#777" stroke-width="0.8"/>
<line x1="311.4" y1="411.3" x2="311.4" y2="413.3" stroke="#777" stroke-width="0.8"/>
<line x1="32.5" y1="692.9" x2="34.5" y2="692.9" stroke="#777" stroke-width="0.8"/>
<line x1="311.4" y1="692.9" x2="309.4" y2="692.9" stroke="#777" stroke-width="0.8"/>
<line x1="32.5" y1="685.86" x2="34.5" y2="685.86" stroke="#777" stroke-width="0.8"/>
<line x1="311.4" y1="685.86" x2="309.4" y2="685.86" stroke="#777" stroke-width="0.8"/>
<line x1="32.5" y1="678.82" x2="34.5" y2="678.82" stroke="#777" stroke-width="0.8"/>
<line x1="311.4" y1="678.82" x2="309.4" y2="678.82" stroke="#777" stroke-width="0.8"/>
<line x1="32.5" y1="671.78" x2="34.5" y2="671.78" stroke="#777" stroke-width="0.8"/>
<line x1="311.4" y1="671.78" x2="309.4" y2="671.78" stroke="#777" stroke-width="0.8"/>
<line x1="32.5" y1="664.74" x2="34.5" y2="664.74" stroke="#777" stroke-width="0.8"/>
<line x1="311.4" y1="664.74" x2="309.4" y2="664.74" stroke="#777" stroke-width="0.8"/>
<line x1="32.5" y1="657.7" x2="34.5" y2="657.7" stroke="#777" stroke-width="0.8"/>
<line x1="311.4" y1="657.7" x2="309.4" y2="657.7" stroke="#777" stroke-width="0.8"/>
<line x1="32.5" y1="650.66" x2="34.5" y2="650.66" stroke="#777" stroke-width="0.8"/>
<line x1="311.4" y1="650.66" x2="309.4" y2="650.66" stroke="#777" stroke-width="0.8"/>
<line x1="32.5" y1="643.62" x2="34.5" y2="643.62" stroke="#777" stroke-width="0.8"/>
<line x1="311.4" y1="643.62" x2="309.4" y2="643.62" stroke="#777" stroke-width="0.8"/>
<line x1="32.5" y1="636.58" x2="34.5" y2="636.58" stroke="#777" stroke-width="0.8"/>
<line x1="311.4" y1="636.58" x2="309.4" y2="636.58" stroke="#777" stroke-width="0.8"/>
<line x1="32.5" y1="629.54" x2="34.5" y2="629.54" stroke="#777" stroke-width="0.8"/>
<line x1="311.4" y1="629.54" x2="309.4" y2="629.54" stroke="#777" stroke-width="0.8"/>
<line x1="32.5" y1="622.5" x2="34.5" y2="622.5" stroke="#777" stroke-width="0.8"/>
<line x1="311.4" y1="622.5" x2="309.4" y2="622.5" stroke="#777" stroke-width="0.8"/>
<line x1="32.5" y1="615.46" x2="34.5" y2="615.46" stroke="#777" stroke-width="0.8"/>
<line x1="311.4" y1="615.46" x2="309.4" y2="615.46" stroke="#777" stroke-width="0.8"/>
<line x1="32.5" y1="608.42" x2="34.5" y2="608.42" stroke="#777" stroke-width="0.8"/>
<line x1="311.4" y1="608.42" x2="309.4" y2="608.42" stroke="#777" stroke-width="0.8"/>
<line x1="32.5" y1="601.38" x2="34.5" y2="601.38" stroke="#777" stroke-width="0.8"/>
<line x1="311.4" y1="601.38" x2="309.4" y2="601.38" stroke="#777" stroke-width="0.8"/>
<line x1="32.5" y1="594.34" x2="34.5" y2="594.34" stroke="#777" stroke-width="0.8"/>
<line x1="311.4" y1="594.34" x2="309.4" y2="594.34" stroke="#777" stroke-width="0.8"/>
<line x1="32.5" y1="587.3" x2="34.5" y2="587.3" stroke="#777" stroke-width="0.8"/>
<line x1="311.4" y1="587.3" x2="309.4" y2="587.3" stroke="#777" stroke-width="0.8"/>
<line x1="32.5" y1="580.26" x2="34.5" y2="580.26" stroke="#777" stroke-width="0.8"/>
<line x1="311.4" y1="580.26" x2="309.4" y2="580.26" stroke="#777" stroke-width="0.8"/>
<line x1="32.5" y1="573.22" x2="34.5" y2="573.22" stroke="#777" stroke-width="0.8"/>
<line x1="311.4" y1="573.22" x2="309.4" y2="573.22" stroke="#777" stroke-width="0.8"/>
<line x1="32.5" y1="566.18" x2="34.5" y2="566.18" stroke="#777" stroke-width="0.8"/>
<line x1="311.4" y1="566.18" x2="309.4" y2="566.18" stroke="#777" stroke-width="0.8"/>
<line x1="32.5" y1="559.14" x2="34.5" y2="559.14" stroke="#777" stroke-width="0.8"/>
<line x1="311.4" y1="559.14" x2="309.4" y2="559.14" stroke="#777" stroke-width="0.8"/>
<line x1="32.5" y1="552.1" x2="34.5" y2="552.1" stroke="#777" stroke-width="0.8"/>
<line x1="311.4" y1="552.1" x2="309.4" y2="552.1" stroke="#777" stroke-width="0.8"/>
<line x1="32.5" y1="545.06" x2="34.5" y2="545.06" stroke="#777" stroke-width="0.8"/>
<line x1="311.4" y1="545.06" x2="309.4" y2="545.06" stroke="#777" stroke-width="0.8"/>
<line x1="32.5" y1="538.02" x2="34.5" y2="538.02" stroke="#777" stroke-width="0.8"/>
<line x1="311.4" y1="538.02" x2="309.4" y2="538.02" stroke="#777" stroke-width="0.8"/>
<line x1="32.5" y1="530.98" x2="34.5" y2="530.98" stroke="#777" stroke-width="0.8"/>
<line x1="311.4" y1="530.98" x2="309.4" y2="530.98" stroke="#777" stroke-width="0.8"/>
<line x1="32.5" y1="523.94" x2="34.5" y2="523.94" stroke="#777" stroke-width="0.8"/>
<line x1="311.4" y1="523.94" x2="309.4" y2="523.94" stroke="#777" stroke-width="0.8"/>
<line x1="32.5" y1="516.9" x2="34.5" y2="516.9" stroke="#777" stroke-width="0.8"/>
<line x1="311.4" y1="516.9" x2="309.4" y2="516.9" stroke="#777" stroke-width="0.8"/>
<line x1="32.5" y1="509.86" x2="34.5" y2="509.86" stroke="#777" stroke-width="0.8"/>
<line x1="311.4" y1="509.86" x2="309.4" y2="509.86" stroke="#777" stroke-width="0.8"/>
<line x1="32.5" y1="502.82" x2="34.5" y2="502.82" stroke="#777" stroke-width="0.8"/>
<line x1="311.4" y1="502.82" x2="309.4" y2="502.82" stroke="#777" stroke-width="0.8"/>
<line x1="32.5" y1="495.78" x2="34.5" y2="495.78" stroke="#777" stroke-width="0.8"/>
<line x1="311.4" y1="495.78" x2="309.4" y2="495.78" stroke="#777" stroke-width="0.8"/>
<line x1="32.5" y1="488.74" x2="34.5" y2="488.74" stroke="#777" stroke-width="0.8"/>
<line x1="311.4" y1="488.74" x2="309.4" y2="488.74" stroke="#777" stroke-width="0.8"/>
<line x1="32.5" y1="481.7" x2="34.5" y2="481.7" stroke="#777" stroke-width="0.8"/>
<line x1="311.4" y1="481.7" x2="309.4" y2="481.7" stroke="#777" stroke-width="0.8"/>
<line x1="32.5" y1="474.66" x2="34.5" y2="474.66" stroke="#777" stroke-width="0.8"/>
<line x1="311.4" y1="474.66" x2="309.4" y2="474.66" stroke="#777" stroke-width="0.8"/>
<line x1="32.5" y1="467.62" x2="34.5" y2="467.62" stroke="#777" stroke-width="0.8"/>
<line x1="311.4" y1="467.62" x2="309.4" y2="467.62" stroke="#777" stroke-width="0.8"/>
<line x1="32.5" y1="460.58" x2="34.5" y2="460.58" stroke="#777" stroke-width="0.8"/>
<line x1="311.4" y1="460.58" x2="309.4" y2="460.58" stroke="#777" stroke-width="0.8"/>
<line x1="32.5" y1="453.54" x2="34.5" y2="453.54" stroke="#777" stroke-width="0.8"/>
<line x1="311.4" y1="453.54" x2="309.4" y2="453.54" stroke="#777" stroke-width="0.8"/>
<line x1="32.5" y1="446.5" x2="34.5" y2="446.5" stroke="#777" stroke-width="0.8"/>
<line x1="311.4" y1="446.5" x2="309.4" y2="446.5" stroke="#777" stroke-width="0.8"/>
<line x1="32.5" y1="439.46" x2="34.5" y2="439.46" stroke="#777" stroke-width="0.8"/>
<line x1="311.4" y1="439.46" x2="309.4" y2="439.46" stroke="#777" stroke-width="0.8"/>
<line x1="32.5" y1="432.42" x2="34.5" y2="432.42" stroke="#777" stroke-width="0.8"/>
<line x1="311.4" y1="432.42" x2="309.4" y2="432.42" stroke="#777" stroke-width="0.8"/>
<line x1="32.5" y1="425.38" x2="34.5" y2="425.38" stroke="#777" stroke-width="0.8"/>
<line x1="311.4" y1="425.38" x2="309.4" y2="425.38" stroke="#777" stroke-width="0.8"/>
<line x1="32.5" y1="418.34" x2="34.5" y2="418.34" stroke="#777" stroke-width="0.8"/>
<line x1="311.4" y1="418.34" x2="309.4" y2="418.34" stroke="#777" stroke-width="0.8"/>
<line x1="32.5" y1="411.3" x2="34.5" y2="411.3" stroke="#777" stroke-width="0.8"/>
<line x1="311.4" y1="411.3" x2="309.4" y2="411.3" stroke="#777" stroke-width="0.8"/>
<line x1="32.5" y1="692.9" x2="36" y2="692.9" stroke="#666" stroke-width="0.9"/>
<line x1="311.4" y1="692.9" x2="307.9" y2="692.9" stroke="#666" stroke-width="0.9"/>
<line x1="32.5" y1="664.74" x2="36" y2="664.74" stroke="#666" stroke-width="0.9"/>
<line x1="311.4" y1="664.74" x2="307.9" y2="664.74" stroke="#666" stroke-width="0.9"/>
<line x1="32.5" y1="636.58" x2="36" y2="636.58" stroke="#666" stroke-width="0.9"/>
<line x1="311.4" y1="636.58" x2="307.9" y2="636.58" stroke="#666" stroke-width="0.9"/>
<line x1="32.5" y1="608.42" x2="36" y2="608.42" stroke="#666" stroke-width="0.9"/>
<line x1="311.4" y1="608.42" x2="307.9" y2="608.42" stroke="#666" stroke-width="0.9"/>
<line x1="32.5" y1="580.26" x2="36" y2="580.26" stroke="#666" stroke-width="0.9"/>
<line x1="311.4" y1="580.26" x2="307.9" y2="580.26" stroke="#666" stroke-width="0.9"/>
<line x1="32.5" y1="552.1" x2="36" y2="552.1" stroke="#666" stroke-width="0.9"/>
<line x1="311.4" y1="552.1" x2="307.9" y2="552.1" stroke="#666" stroke-width="0.9"/>
<line x1="32.5" y1="523.94" x2="36" y2="523.94" stroke="#666" stroke-width="0.9"/>
<line x1="311.4" y1="523.94" x2="307.9" y2="523.94" stroke="#666" stroke-width="0.9"/>
<line x1="32.5" y1="495.78" x2="36" y2="495.78" stroke="#666" stroke-width="0.9"/>
<line x1="311.4" y1="495.78" x2="307.9" y2="495.78" stroke="#666" stroke-width="0.9"/>
<line x1="32.5" y1="467.62" x2="36" y2="467.62" stroke="#666" stroke-width="0.9"/>
<line x1="311.4" y1="467.62" x2="307.9" y2="467.62" stroke="#666" stroke-width="0.9"/>
<line x1="32.5" y1="439.46" x2="36" y2="439.46" stroke="#666" stroke-width="0.9"/>
<line x1="311.4" y1="439.46" x2="307.9" y2="439.46" stroke="#666" stroke-width="0.9"/>
<line x1="32.5" y1="411.3" x2="36" y2="411.3" stroke="#666" stroke-width="0.9"/>
<line x1="311.4" y1="411.3" x2="307.9" y2="411.3" stroke="#666" stroke-width="0.9"/>
<line x1="32.5" y1="692.9" x2="32.5" y2="689.4" stroke="#666" stroke-width="0.9"/>
<line x1="32.5" y1="411.3" x2="32.5" y2="414.8" stroke="#666" stroke-width="0.9"/>
<line x1="125.47" y1="692.9" x2="125.47" y2="689.4" stroke="#666" stroke-width="0.9"/>
<line x1="125.47" y1="411.3" x2="125.47" y2="414.8" stroke="#666" stroke-width="0.9"/>
<line x1="218.43" y1="692.9" x2="218.43" y2="689.4" stroke="#666" stroke-width="0.9"/>
<line x1="218.43" y1="411.3" x2="218.43" y2="414.8" stroke="#666" stroke-width="0.9"/>
<line x1="311.4" y1="692.9" x2="311.4" y2="689.4" stroke="#666" stroke-width="0.9"/>
<line x1="311.4" y1="411.3" x2="311.4" y2="414.8" stroke="#666" stroke-width="0.9"/>
<path d="M32.5,552.1 L36.22,552.03 L39.94,551.81 L43.66,551.45 L47.37,550.94 L51.09,550.3 L54.81,549.51 L58.53,548.59 L62.25,547.53 L65.97,546.34 L69.69,545.02 L73.41,543.58 L77.12,542.02 L80.84,540.33 L84.56,538.54 L88.28,536.63 L92,534.62 L95.72,532.5 L99.44,530.29 L103.15,527.98 L106.87,525.58 L110.59,523.1 L114.31,520.53 L118.03,517.88 L121.75,515.16 L125.47,512.37 L129.19,509.51 L132.9,506.58 L136.62,503.59 L140.34,500.54 L144.06,497.43 L147.78,494.27 L151.5,491.05 L155.22,487.79 L158.93,484.48 L162.65,481.13 L166.37,477.73 L170.09,474.29 L173.81,470.81 L177.53,467.3 L181.25,463.75 L184.97,460.17 L188.68,456.56 L192.4,452.91 L196.12,449.24 L199.84,445.53 L203.56,441.8 L207.28,438.05 L211,434.27 L214.71,430.47 L218.43,426.64 L222.15,422.8 L225.87,418.93 L229.59,415.04 L233.31,411.3" fill="none" stroke="#e41a1c" stroke-width="1.2"/>
<path d="M32.5,552.1 L36.22,552.09 L39.94,552.05 L43.66,551.98 L47.37,551.89 L51.09,551.77 L54.81,551.62 L58.53,551.44 L62.25,551.25 L65.97,551.02 L69.69,550.77 L73.41,550.49 L77.12,550.18 L80.84,549.85 L84.56,549.5 L88.28,549.12 L92,548.71 L95.72,548.28 L99.44,547.82 L103.15,547.34 L106.87,546.84 L110.59,546.31 L114.31,545.76 L118.03,545.18 L121.75,544.58 L125.47,543.96 L129.19,543.32 L132.9,542.65 L136.62,541.96 L140.34,541.25 L144.06,540.52 L147.78,539.76 L151.5,538.99 L155.22,538.19 L158.93,537.38 L162.65,536.55 L166.37,535.69 L170.09,534.82 L173.81,533.92 L177.53,533.01 L181.25,532.08 L184.97,531.14 L188.68,530.17 L192.4,529.19 L196.12,528.19 L199.84,527.17 L203.56,526.14 L207.28,525.09 L211,524.03 L214.71,522.95 L218.43,521.85 L222.15,520.74 L225.87,519.62 L229.59,518.48 L233.31,517.32 L237.03,516.16 L240.75,514.97 L244.46,513.78 L248.18,512.57 L251.9,511.35 L255.62,510.12 L259.34,508.88 L263.06,507.62 L266.78,506.35 L270.49,505.07 L274.21,503.78 L277.93,502.48 L281.65,501.16 L285.37,499.84 L289.09,498.51 L292.81,497.16 L296.53,495.81 L300.24,494.44 L303.96,493.07 L307.68,491.69 L311.4,490.29" fill="none" stroke="#1c3f9a" stroke-width="1.2"/>
<path d="M32.5,552.1 L36.22,552.09 L39.94,552.08 L43.66,552.05 L47.37,552 L51.09,551.95 L54.81,551.88 L58.53,551.81 L62.25,551.72 L65.97,551.61 L69.69,551.5 L73.41,551.37 L77.12,551.24 L80.84,551.09 L84.56,550.92 L88.28,550.75 L92,550.57 L95.72,550.37 L99.44,550.16 L103.15,549.94 L106.87,549.71 L110.59,549.47 L114.31,549.22 L118.03,548.95 L121.75,548.67 L125.47,548.39 L129.19,548.09 L132.9,547.78 L136.62,547.46 L140.34,547.12 L144.06,546.78 L147.78,546.43 L151.5,546.06 L155.22,545.69 L158.93,545.3 L162.65,544.91 L166.37,544.5 L170.09,544.09 L173.81,543.66 L177.53,543.22 L181.25,542.78 L184.97,542.32 L188.68,541.85 L192.4,541.38 L196.12,540.89 L199.84,540.39 L203.56,539.89 L207.28,539.37 L211,538.85 L214.71,538.32 L218.43,537.78 L222.15,537.23 L225.87,536.67 L229.59,536.1 L233.31,535.52 L237.03,534.93 L240.75,534.34 L244.46,533.74 L248.18,533.12 L251.9,532.5 L255.62,531.88 L259.34,531.24 L263.06,530.6 L266.78,529.95 L270.49,529.29 L274.21,528.62 L277.93,527.94 L281.65,527.26 L285.37,526.57 L289.09,525.88 L292.81,525.17 L296.53,524.46 L300.24,523.74 L303.96,523.02 L307.68,522.29 L311.4,521.55" fill="none" stroke="#5ab52c" stroke-width="1.2"/>
<path d="M32.5,552.1 L36.22,552.1 L39.94,552.09 L43.66,552.07 L47.37,552.05 L51.09,552.02 L54.81,551.98 L58.53,551.94 L62.25,551.89 L65.97,551.84 L69.69,551.78 L73.41,551.71 L77.12,551.63 L80.84,551.55 L84.56,551.47 L88.28,551.37 L92,551.27 L95.72,551.17 L99.44,551.05 L103.15,550.94 L106.87,550.81 L110.59,550.68 L114.31,550.54 L118.03,550.4 L121.75,550.25 L125.47,550.09 L129.19,549.93 L132.9,549.76 L136.62,549.58 L140.34,549.4 L144.06,549.21 L147.78,549.02 L151.5,548.82 L155.22,548.61 L158.93,548.4 L162.65,548.19 L166.37,547.96 L170.09,547.73 L173.81,547.5 L177.53,547.26 L181.25,547.01 L184.97,546.76 L188.68,546.5 L192.4,546.23 L196.12,545.96 L199.84,545.69 L203.56,545.4 L207.28,545.12 L211,544.82 L214.71,544.52 L218.43,544.22 L222.15,543.91 L225.87,543.6 L229.59,543.28 L233.31,542.95 L237.03,542.62 L240.75,542.28 L244.46,541.94 L248.18,541.59 L251.9,541.24 L255.62,540.88 L259.34,540.52 L263.06,540.15 L266.78,539.78 L270.49,539.4 L274.21,539.02 L277.93,538.63 L281.65,538.24 L285.37,537.84 L289.09,537.44 L292.81,537.03 L296.53,536.62 L300.24,536.2 L303.96,535.78 L307.68,535.35 L311.4,534.92" fill="none" stroke="#a34aa5" stroke-width="1.2"/>
<path d="M32.5,552.1 L36.22,552.1 L39.94,552.09 L43.66,552.08 L47.37,552.07 L51.09,552.05 L54.81,552.02 L58.53,552 L62.25,551.97 L65.97,551.93 L69.69,551.89 L73.41,551.84 L77.12,551.8 L80.84,551.74 L84.56,551.69 L88.28,551.63 L92,551.56 L95.72,551.49 L99.44,551.42 L103.15,551.34 L106.87,551.26 L110.59,551.17 L114.31,551.08 L118.03,550.99 L121.75,550.89 L125.47,550.79 L129.19,550.68 L132.9,550.57 L136.62,550.46 L140.34,550.34 L144.06,550.21 L147.78,550.09 L151.5,549.96 L155.22,549.82 L158.93,549.68 L162.65,549.54 L166.37,549.39 L170.09,549.24 L173.81,549.09 L177.53,548.93 L181.25,548.76 L184.97,548.6 L188.68,548.43 L192.4,548.25 L196.12,548.07 L199.84,547.89 L203.56,547.7 L207.28,547.51 L211,547.32 L214.71,547.12 L218.43,546.92 L222.15,546.72 L225.87,546.51 L229.59,546.29 L233.31,546.08 L237.03,545.86 L240.75,545.63 L244.46,545.41 L248.18,545.17 L251.9,544.94 L255.62,544.7 L259.34,544.46 L263.06,544.21 L266.78,543.96 L270.49,543.71 L274.21,543.45 L277.93,543.19 L281.65,542.93 L285.37,542.66 L289.09,542.39 L292.81,542.12 L296.53,541.84 L300.24,541.56 L303.96,541.27 L307.68,540.99 L311.4,540.7" fill="none" stroke="#f0e31c" stroke-width="1.2"/>
<line x1="32.5" y1="692.9" x2="61.2" y2="411.9" stroke="#111" stroke-width="1.25"/>
<line x1="32.5" y1="692.9" x2="70.5" y2="411.9" stroke="#111" stroke-width="1.25"/>
<line x1="32.5" y1="692.9" x2="73.1" y2="411.9" stroke="#111" stroke-width="1.25"/>
<line x1="51.65" y1="412.3" x2="51.65" y2="692.9" stroke="#454545" stroke-width="1.25" stroke-dasharray="4.4 4.85"/>
<line x1="148.52" y1="412.3" x2="148.52" y2="692.9" stroke="#151515" stroke-width="1.25" stroke-dasharray="4.4 4.85"/>
<circle cx="148.52" cy="538.81" r="2.0" fill="#fff" stroke="#1c3f9a" stroke-width="1.05"/>
<circle cx="148.52" cy="545.56" r="2.0" fill="#fff" stroke="#5ab52c" stroke-width="1.05"/>
<circle cx="148.52" cy="548.18" r="2.0" fill="#fff" stroke="#a34aa5" stroke-width="1.05"/>
<circle cx="148.52" cy="549.26" r="2.0" fill="#fff" stroke="#f0e31c" stroke-width="1.05"/>
<circle cx="47.2" cy="550.6" r="1.8" fill="none" stroke="#e41a1c" stroke-width="0.9"/>
<circle cx="47.2" cy="552.1" r="1.8" fill="none" stroke="#5ab52c" stroke-width="0.9"/>
<circle cx="52.6" cy="550.6" r="1.8" fill="none" stroke="#e41a1c" stroke-width="0.9"/>
<circle cx="52.6" cy="552.1" r="1.8" fill="none" stroke="#5ab52c" stroke-width="0.9"/>
<path d="M72.7,417.5 L109.4,417.5 L109.4,422.3" fill="none" stroke="#3a3a3a" stroke-width="0.75"/>
<path d="M76.9,414.5 L72.7,417.5 L76.9,420.5" fill="none" stroke="#3a3a3a" stroke-width="0.75"/>
<text x="95.4" y="431.5" font-size="12.9" font-style="italic" fill="#2a2a2a" textLength="27.6" lengthAdjust="spacingAndGlyphs">Krosa</text>
<path d="M67,442.4 L106.8,442.4 L106.8,446.3" fill="none" stroke="#3a3a3a" stroke-width="0.75"/>
<path d="M71.2,439.4 L67,442.4 L71.2,445.4" fill="none" stroke="#3a3a3a" stroke-width="0.75"/>
<text x="95.4" y="456.4" font-size="12.9" font-style="italic" fill="#2a2a2a" textLength="26.3" lengthAdjust="spacingAndGlyphs">Mitag</text>
<path d="M55.6,471.4 L99.8,471.4 L99.8,476.3" fill="none" stroke="#3a3a3a" stroke-width="0.75"/>
<path d="M59.8,468.4 L55.6,471.4 L59.8,474.4" fill="none" stroke="#3a3a3a" stroke-width="0.75"/>
<text x="86.8" y="484.5" font-size="12.9" font-style="italic" fill="#2a2a2a" textLength="28.6" lengthAdjust="spacingAndGlyphs">Tapah</text>
<rect x="246.4" y="415.4" width="59.8" height="57.2" fill="#fff" stroke="#bcbcbc" stroke-width="1"/>
<line x1="248.4" y1="422.1" x2="265.5" y2="422.1" stroke="#e41a1c" stroke-width="1.2"/>
<text x="267.8" y="425.6" font-size="9.6" fill="#262626" textLength="35.6" lengthAdjust="spacingAndGlyphs">mode=1</text>
<line x1="248.4" y1="433.1" x2="265.5" y2="433.1" stroke="#1c3f9a" stroke-width="1.2"/>
<text x="267.8" y="436.6" font-size="9.6" fill="#262626" textLength="35.6" lengthAdjust="spacingAndGlyphs">mode=2</text>
<line x1="248.4" y1="444.1" x2="265.5" y2="444.1" stroke="#5ab52c" stroke-width="1.2"/>
<text x="267.8" y="447.6" font-size="9.6" fill="#262626" textLength="35.6" lengthAdjust="spacingAndGlyphs">mode=3</text>
<line x1="248.4" y1="455.1" x2="265.5" y2="455.1" stroke="#a34aa5" stroke-width="1.2"/>
<text x="267.8" y="458.6" font-size="9.6" fill="#262626" textLength="35.6" lengthAdjust="spacingAndGlyphs">mode=4</text>
<line x1="248.4" y1="466.1" x2="265.5" y2="466.1" stroke="#f0e31c" stroke-width="1.2"/>
<text x="267.8" y="469.6" font-size="9.6" fill="#262626" textLength="35.6" lengthAdjust="spacingAndGlyphs">mode=5</text>
<text x="32.5" y="706.9" font-size="10.3" text-anchor="middle" fill="#262626">0</text>
<text x="125.47" y="706.9" font-size="10.3" text-anchor="middle" fill="#262626">0.5</text>
<text x="218.43" y="706.9" font-size="10.3" text-anchor="middle" fill="#262626">1</text>
<text x="311.4" y="706.9" font-size="10.3" text-anchor="middle" fill="#262626">1.5</text>
<text x="29.2" y="696.8" font-size="10.3" text-anchor="end" fill="#262626">0</text>
<text x="29.2" y="668.64" font-size="10.3" text-anchor="end" fill="#262626">0.2</text>
<text x="29.2" y="640.48" font-size="10.3" text-anchor="end" fill="#262626">0.4</text>
<text x="29.2" y="612.32" font-size="10.3" text-anchor="end" fill="#262626">0.6</text>
<text x="29.2" y="584.16" font-size="10.3" text-anchor="end" fill="#262626">0.8</text>
<text x="29.2" y="556" font-size="10.3" text-anchor="end" fill="#262626">1</text>
<text x="29.2" y="527.84" font-size="10.3" text-anchor="end" fill="#262626">1.2</text>
<text x="29.2" y="499.68" font-size="10.3" text-anchor="end" fill="#262626">1.4</text>
<text x="29.2" y="471.52" font-size="10.3" text-anchor="end" fill="#262626">1.6</text>
<text x="29.2" y="443.36" font-size="10.3" text-anchor="end" fill="#262626">1.8</text>
<text x="29.2" y="415.2" font-size="10.3" text-anchor="end" fill="#262626">2</text>
<text x="281.1" y="721.7" font-size="11.4" fill="#555">×</text>
<text x="289.4" y="721.9" font-family="Liberation Serif" font-size="11.4" fill="#262626">10</text>
<text x="301.4" y="716.9" font-size="8" fill="#262626">−4</text>
<text x="145.6" y="720.1" font-size="12.2" fill="#262626" textLength="51.2" lengthAdjust="spacing">k<tspan dy="3.7" font-size="8.8">H</tspan><tspan dy="-3.7">, rad/m</tspan></text>
<text transform="translate(10.0,552.5) rotate(-90)" font-size="12.2" font-style="italic" text-anchor="middle" fill="#262626" textLength="17" lengthAdjust="spacingAndGlyphs"><tspan font-family="Liberation Serif" font-size="13.5">ω</tspan>/f</text>
<text x="289.5" y="685.4" font-size="27.5" fill="#000">d</text>
<text x="46.2" y="408.2" font-size="16" fill="#262626">k</text>
<text x="53.6" y="402.8" font-size="9.2" fill="#262626">C</text>
<text x="54.4" y="409" font-size="7.6" fill="#262626">H</text>
<text x="144.7" y="408.2" font-size="16" fill="#262626">k</text>
<text x="152.1" y="402.8" font-size="9.2" fill="#262626">M</text>
<text x="152.9" y="409" font-size="7.6" fill="#262626">H</text>
<line x1="492.1" y1="411.3" x2="492.1" y2="692.9" stroke="#e6e6e6" stroke-width="0.9"/>
<line x1="584.7" y1="411.3" x2="584.7" y2="692.9" stroke="#e6e6e6" stroke-width="0.9"/>
<line x1="399.5" y1="652.67" x2="677.3" y2="652.67" stroke="#e6e6e6" stroke-width="0.9"/>
<line x1="399.5" y1="612.44" x2="677.3" y2="612.44" stroke="#e6e6e6" stroke-width="0.9"/>
<line x1="399.5" y1="572.21" x2="677.3" y2="572.21" stroke="#e6e6e6" stroke-width="0.9"/>
<line x1="399.5" y1="531.99" x2="677.3" y2="531.99" stroke="#e6e6e6" stroke-width="0.9"/>
<line x1="399.5" y1="491.76" x2="677.3" y2="491.76" stroke="#e6e6e6" stroke-width="0.9"/>
<line x1="399.5" y1="451.53" x2="677.3" y2="451.53" stroke="#e6e6e6" stroke-width="0.9"/>
<rect x="399.5" y="646.64" width="276.3" height="4.63" fill="#dfe1e1"/>
<rect x="399.5" y="411.3" width="277.8" height="281.6" fill="none" stroke="#b2b2b2" stroke-width="1.05"/>
<line x1="399.5" y1="692.9" x2="399.5" y2="690.9" stroke="#777" stroke-width="0.8"/>
<line x1="399.5" y1="411.3" x2="399.5" y2="413.3" stroke="#777" stroke-width="0.8"/>
<line x1="418.02" y1="692.9" x2="418.02" y2="690.9" stroke="#777" stroke-width="0.8"/>
<line x1="418.02" y1="411.3" x2="418.02" y2="413.3" stroke="#777" stroke-width="0.8"/>
<line x1="436.54" y1="692.9" x2="436.54" y2="690.9" stroke="#777" stroke-width="0.8"/>
<line x1="436.54" y1="411.3" x2="436.54" y2="413.3" stroke="#777" stroke-width="0.8"/>
<line x1="455.06" y1="692.9" x2="455.06" y2="690.9" stroke="#777" stroke-width="0.8"/>
<line x1="455.06" y1="411.3" x2="455.06" y2="413.3" stroke="#777" stroke-width="0.8"/>
<line x1="473.58" y1="692.9" x2="473.58" y2="690.9" stroke="#777" stroke-width="0.8"/>
<line x1="473.58" y1="411.3" x2="473.58" y2="413.3" stroke="#777" stroke-width="0.8"/>
<line x1="492.1" y1="692.9" x2="492.1" y2="690.9" stroke="#777" stroke-width="0.8"/>
<line x1="492.1" y1="411.3" x2="492.1" y2="413.3" stroke="#777" stroke-width="0.8"/>
<line x1="510.62" y1="692.9" x2="510.62" y2="690.9" stroke="#777" stroke-width="0.8"/>
<line x1="510.62" y1="411.3" x2="510.62" y2="413.3" stroke="#777" stroke-width="0.8"/>
<line x1="529.14" y1="692.9" x2="529.14" y2="690.9" stroke="#777" stroke-width="0.8"/>
<line x1="529.14" y1="411.3" x2="529.14" y2="413.3" stroke="#777" stroke-width="0.8"/>
<line x1="547.66" y1="692.9" x2="547.66" y2="690.9" stroke="#777" stroke-width="0.8"/>
<line x1="547.66" y1="411.3" x2="547.66" y2="413.3" stroke="#777" stroke-width="0.8"/>
<line x1="566.18" y1="692.9" x2="566.18" y2="690.9" stroke="#777" stroke-width="0.8"/>
<line x1="566.18" y1="411.3" x2="566.18" y2="413.3" stroke="#777" stroke-width="0.8"/>
<line x1="584.7" y1="692.9" x2="584.7" y2="690.9" stroke="#777" stroke-width="0.8"/>
<line x1="584.7" y1="411.3" x2="584.7" y2="413.3" stroke="#777" stroke-width="0.8"/>
<line x1="603.22" y1="692.9" x2="603.22" y2="690.9" stroke="#777" stroke-width="0.8"/>
<line x1="603.22" y1="411.3" x2="603.22" y2="413.3" stroke="#777" stroke-width="0.8"/>
<line x1="621.74" y1="692.9" x2="621.74" y2="690.9" stroke="#777" stroke-width="0.8"/>
<line x1="621.74" y1="411.3" x2="621.74" y2="413.3" stroke="#777" stroke-width="0.8"/>
<line x1="640.26" y1="692.9" x2="640.26" y2="690.9" stroke="#777" stroke-width="0.8"/>
<line x1="640.26" y1="411.3" x2="640.26" y2="413.3" stroke="#777" stroke-width="0.8"/>
<line x1="658.78" y1="692.9" x2="658.78" y2="690.9" stroke="#777" stroke-width="0.8"/>
<line x1="658.78" y1="411.3" x2="658.78" y2="413.3" stroke="#777" stroke-width="0.8"/>
<line x1="677.3" y1="692.9" x2="677.3" y2="690.9" stroke="#777" stroke-width="0.8"/>
<line x1="677.3" y1="411.3" x2="677.3" y2="413.3" stroke="#777" stroke-width="0.8"/>
<line x1="399.5" y1="692.9" x2="401.5" y2="692.9" stroke="#777" stroke-width="0.8"/>
<line x1="677.3" y1="692.9" x2="675.3" y2="692.9" stroke="#777" stroke-width="0.8"/>
<line x1="399.5" y1="682.84" x2="401.5" y2="682.84" stroke="#777" stroke-width="0.8"/>
<line x1="677.3" y1="682.84" x2="675.3" y2="682.84" stroke="#777" stroke-width="0.8"/>
<line x1="399.5" y1="672.79" x2="401.5" y2="672.79" stroke="#777" stroke-width="0.8"/>
<line x1="677.3" y1="672.79" x2="675.3" y2="672.79" stroke="#777" stroke-width="0.8"/>
<line x1="399.5" y1="662.73" x2="401.5" y2="662.73" stroke="#777" stroke-width="0.8"/>
<line x1="677.3" y1="662.73" x2="675.3" y2="662.73" stroke="#777" stroke-width="0.8"/>
<line x1="399.5" y1="652.67" x2="401.5" y2="652.67" stroke="#777" stroke-width="0.8"/>
<line x1="677.3" y1="652.67" x2="675.3" y2="652.67" stroke="#777" stroke-width="0.8"/>
<line x1="399.5" y1="642.61" x2="401.5" y2="642.61" stroke="#777" stroke-width="0.8"/>
<line x1="677.3" y1="642.61" x2="675.3" y2="642.61" stroke="#777" stroke-width="0.8"/>
<line x1="399.5" y1="632.56" x2="401.5" y2="632.56" stroke="#777" stroke-width="0.8"/>
<line x1="677.3" y1="632.56" x2="675.3" y2="632.56" stroke="#777" stroke-width="0.8"/>
<line x1="399.5" y1="622.5" x2="401.5" y2="622.5" stroke="#777" stroke-width="0.8"/>
<line x1="677.3" y1="622.5" x2="675.3" y2="622.5" stroke="#777" stroke-width="0.8"/>
<line x1="399.5" y1="612.44" x2="401.5" y2="612.44" stroke="#777" stroke-width="0.8"/>
<line x1="677.3" y1="612.44" x2="675.3" y2="612.44" stroke="#777" stroke-width="0.8"/>
<line x1="399.5" y1="602.39" x2="401.5" y2="602.39" stroke="#777" stroke-width="0.8"/>
<line x1="677.3" y1="602.39" x2="675.3" y2="602.39" stroke="#777" stroke-width="0.8"/>
<line x1="399.5" y1="592.33" x2="401.5" y2="592.33" stroke="#777" stroke-width="0.8"/>
<line x1="677.3" y1="592.33" x2="675.3" y2="592.33" stroke="#777" stroke-width="0.8"/>
<line x1="399.5" y1="582.27" x2="401.5" y2="582.27" stroke="#777" stroke-width="0.8"/>
<line x1="677.3" y1="582.27" x2="675.3" y2="582.27" stroke="#777" stroke-width="0.8"/>
<line x1="399.5" y1="572.21" x2="401.5" y2="572.21" stroke="#777" stroke-width="0.8"/>
<line x1="677.3" y1="572.21" x2="675.3" y2="572.21" stroke="#777" stroke-width="0.8"/>
<line x1="399.5" y1="562.16" x2="401.5" y2="562.16" stroke="#777" stroke-width="0.8"/>
<line x1="677.3" y1="562.16" x2="675.3" y2="562.16" stroke="#777" stroke-width="0.8"/>
<line x1="399.5" y1="552.1" x2="401.5" y2="552.1" stroke="#777" stroke-width="0.8"/>
<line x1="677.3" y1="552.1" x2="675.3" y2="552.1" stroke="#777" stroke-width="0.8"/>
<line x1="399.5" y1="542.04" x2="401.5" y2="542.04" stroke="#777" stroke-width="0.8"/>
<line x1="677.3" y1="542.04" x2="675.3" y2="542.04" stroke="#777" stroke-width="0.8"/>
<line x1="399.5" y1="531.99" x2="401.5" y2="531.99" stroke="#777" stroke-width="0.8"/>
<line x1="677.3" y1="531.99" x2="675.3" y2="531.99" stroke="#777" stroke-width="0.8"/>
<line x1="399.5" y1="521.93" x2="401.5" y2="521.93" stroke="#777" stroke-width="0.8"/>
<line x1="677.3" y1="521.93" x2="675.3" y2="521.93" stroke="#777" stroke-width="0.8"/>
<line x1="399.5" y1="511.87" x2="401.5" y2="511.87" stroke="#777" stroke-width="0.8"/>
<line x1="677.3" y1="511.87" x2="675.3" y2="511.87" stroke="#777" stroke-width="0.8"/>
<line x1="399.5" y1="501.81" x2="401.5" y2="501.81" stroke="#777" stroke-width="0.8"/>
<line x1="677.3" y1="501.81" x2="675.3" y2="501.81" stroke="#777" stroke-width="0.8"/>
<line x1="399.5" y1="491.76" x2="401.5" y2="491.76" stroke="#777" stroke-width="0.8"/>
<line x1="677.3" y1="491.76" x2="675.3" y2="491.76" stroke="#777" stroke-width="0.8"/>
<line x1="399.5" y1="481.7" x2="401.5" y2="481.7" stroke="#777" stroke-width="0.8"/>
<line x1="677.3" y1="481.7" x2="675.3" y2="481.7" stroke="#777" stroke-width="0.8"/>
<line x1="399.5" y1="471.64" x2="401.5" y2="471.64" stroke="#777" stroke-width="0.8"/>
<line x1="677.3" y1="471.64" x2="675.3" y2="471.64" stroke="#777" stroke-width="0.8"/>
<line x1="399.5" y1="461.59" x2="401.5" y2="461.59" stroke="#777" stroke-width="0.8"/>
<line x1="677.3" y1="461.59" x2="675.3" y2="461.59" stroke="#777" stroke-width="0.8"/>
<line x1="399.5" y1="451.53" x2="401.5" y2="451.53" stroke="#777" stroke-width="0.8"/>
<line x1="677.3" y1="451.53" x2="675.3" y2="451.53" stroke="#777" stroke-width="0.8"/>
<line x1="399.5" y1="441.47" x2="401.5" y2="441.47" stroke="#777" stroke-width="0.8"/>
<line x1="677.3" y1="441.47" x2="675.3" y2="441.47" stroke="#777" stroke-width="0.8"/>
<line x1="399.5" y1="431.41" x2="401.5" y2="431.41" stroke="#777" stroke-width="0.8"/>
<line x1="677.3" y1="431.41" x2="675.3" y2="431.41" stroke="#777" stroke-width="0.8"/>
<line x1="399.5" y1="421.36" x2="401.5" y2="421.36" stroke="#777" stroke-width="0.8"/>
<line x1="677.3" y1="421.36" x2="675.3" y2="421.36" stroke="#777" stroke-width="0.8"/>
<line x1="399.5" y1="411.3" x2="401.5" y2="411.3" stroke="#777" stroke-width="0.8"/>
<line x1="677.3" y1="411.3" x2="675.3" y2="411.3" stroke="#777" stroke-width="0.8"/>
<line x1="399.5" y1="692.9" x2="403" y2="692.9" stroke="#666" stroke-width="0.9"/>
<line x1="677.3" y1="692.9" x2="673.8" y2="692.9" stroke="#666" stroke-width="0.9"/>
<line x1="399.5" y1="652.67" x2="403" y2="652.67" stroke="#666" stroke-width="0.9"/>
<line x1="677.3" y1="652.67" x2="673.8" y2="652.67" stroke="#666" stroke-width="0.9"/>
<line x1="399.5" y1="612.44" x2="403" y2="612.44" stroke="#666" stroke-width="0.9"/>
<line x1="677.3" y1="612.44" x2="673.8" y2="612.44" stroke="#666" stroke-width="0.9"/>
<line x1="399.5" y1="572.21" x2="403" y2="572.21" stroke="#666" stroke-width="0.9"/>
<line x1="677.3" y1="572.21" x2="673.8" y2="572.21" stroke="#666" stroke-width="0.9"/>
<line x1="399.5" y1="531.99" x2="403" y2="531.99" stroke="#666" stroke-width="0.9"/>
<line x1="677.3" y1="531.99" x2="673.8" y2="531.99" stroke="#666" stroke-width="0.9"/>
<line x1="399.5" y1="491.76" x2="403" y2="491.76" stroke="#666" stroke-width="0.9"/>
<line x1="677.3" y1="491.76" x2="673.8" y2="491.76" stroke="#666" stroke-width="0.9"/>
<line x1="399.5" y1="451.53" x2="403" y2="451.53" stroke="#666" stroke-width="0.9"/>
<line x1="677.3" y1="451.53" x2="673.8" y2="451.53" stroke="#666" stroke-width="0.9"/>
<line x1="399.5" y1="411.3" x2="403" y2="411.3" stroke="#666" stroke-width="0.9"/>
<line x1="677.3" y1="411.3" x2="673.8" y2="411.3" stroke="#666" stroke-width="0.9"/>
<line x1="399.5" y1="692.9" x2="399.5" y2="689.4" stroke="#666" stroke-width="0.9"/>
<line x1="399.5" y1="411.3" x2="399.5" y2="414.8" stroke="#666" stroke-width="0.9"/>
<line x1="492.1" y1="692.9" x2="492.1" y2="689.4" stroke="#666" stroke-width="0.9"/>
<line x1="492.1" y1="411.3" x2="492.1" y2="414.8" stroke="#666" stroke-width="0.9"/>
<line x1="584.7" y1="692.9" x2="584.7" y2="689.4" stroke="#666" stroke-width="0.9"/>
<line x1="584.7" y1="411.3" x2="584.7" y2="414.8" stroke="#666" stroke-width="0.9"/>
<line x1="677.3" y1="692.9" x2="677.3" y2="689.4" stroke="#666" stroke-width="0.9"/>
<line x1="677.3" y1="411.3" x2="677.3" y2="414.8" stroke="#666" stroke-width="0.9"/>
<path d="M399.5,692.9 L404.13,682.52 L408.76,672.2 L413.39,662.01 L418.02,652 L422.65,642.21 L427.28,632.69 L431.91,623.46 L436.54,614.55 L441.17,605.98 L445.8,597.76 L450.43,589.9 L455.06,582.41 L459.69,575.28 L464.32,568.5 L468.95,562.08 L473.58,556 L478.21,550.26 L482.84,544.83 L487.47,539.7 L492.1,534.86 L496.73,530.3 L501.36,526.01 L505.99,521.96 L510.62,518.14 L515.25,514.54 L519.88,511.15 L524.51,507.95 L529.14,504.94 L533.77,502.09 L538.4,499.41 L543.03,496.87 L547.66,494.48 L552.29,492.22 L556.92,490.08 L561.55,488.06 L566.18,486.14 L570.81,484.33 L575.44,482.61 L580.07,480.98 L584.7,479.43 L589.33,477.96 L593.96,476.57 L598.59,475.24 L603.22,473.98 L607.85,472.78 L612.48,471.64 L617.11,470.55 L621.74,469.51 L626.37,468.52 L631,467.58 L635.63,466.68 L640.26,465.82 L644.89,464.99 L649.52,464.2 L654.15,463.45 L658.78,462.73 L663.41,462.03 L668.04,461.37 L672.67,460.73 L677.3,460.12" fill="none" stroke="#e41a1c" stroke-width="1.2"/>
<path d="M399.5,692.9 L404.13,690.97 L408.76,689.04 L413.39,687.12 L418.02,685.2 L422.65,683.29 L427.28,681.39 L431.91,679.5 L436.54,677.63 L441.17,675.76 L445.8,673.92 L450.43,672.09 L455.06,670.29 L459.69,668.5 L464.32,666.73 L468.95,664.99 L473.58,663.28 L478.21,661.59 L482.84,659.92 L487.47,658.28 L492.1,656.67 L496.73,655.09 L501.36,653.54 L505.99,652.02 L510.62,650.53 L515.25,649.06 L519.88,647.63 L524.51,646.23 L529.14,644.86 L533.77,643.52 L538.4,642.2 L543.03,640.92 L547.66,639.67 L552.29,638.45 L556.92,637.26 L561.55,636.1 L566.18,634.97 L570.81,633.86 L575.44,632.79 L580.07,631.74 L584.7,630.71 L589.33,629.72 L593.96,628.75 L598.59,627.8 L603.22,626.89 L607.85,625.99 L612.48,625.12 L617.11,624.27 L621.74,623.45 L626.37,622.65 L631,621.86 L635.63,621.11 L640.26,620.37 L644.89,619.65 L649.52,618.95 L654.15,618.27 L658.78,617.61 L663.41,616.96 L668.04,616.34 L672.67,615.73 L677.3,615.14" fill="none" stroke="#1c3f9a" stroke-width="1.2"/>
<path d="M399.5,692.9 L404.13,692.03 L408.76,691.17 L413.39,690.3 L418.02,689.43 L422.65,688.57 L427.28,687.71 L431.91,686.85 L436.54,686 L441.17,685.14 L445.8,684.3 L450.43,683.45 L455.06,682.61 L459.69,681.78 L464.32,680.95 L468.95,680.13 L473.58,679.31 L478.21,678.5 L482.84,677.7 L487.47,676.9 L492.1,676.11 L496.73,675.33 L501.36,674.55 L505.99,673.79 L510.62,673.03 L515.25,672.28 L519.88,671.54 L524.51,670.81 L529.14,670.09 L533.77,669.37 L538.4,668.67 L543.03,667.97 L547.66,667.28 L552.29,666.61 L556.92,665.94 L561.55,665.28 L566.18,664.64 L570.81,664 L575.44,663.37 L580.07,662.75 L584.7,662.14 L589.33,661.54 L593.96,660.95 L598.59,660.37 L603.22,659.8 L607.85,659.24 L612.48,658.69 L617.11,658.15 L621.74,657.62 L626.37,657.1 L631,656.58 L635.63,656.08 L640.26,655.58 L644.89,655.1 L649.52,654.62 L654.15,654.15 L658.78,653.69 L663.41,653.24 L668.04,652.79 L672.67,652.36 L677.3,651.93" fill="none" stroke="#5ab52c" stroke-width="1.2"/>
<path d="M399.5,692.9 L404.13,692.43 L408.76,691.96 L413.39,691.49 L418.02,691.02 L422.65,690.56 L427.28,690.09 L431.91,689.62 L436.54,689.16 L441.17,688.69 L445.8,688.23 L450.43,687.77 L455.06,687.31 L459.69,686.85 L464.32,686.39 L468.95,685.94 L473.58,685.48 L478.21,685.03 L482.84,684.58 L487.47,684.14 L492.1,683.69 L496.73,683.25 L501.36,682.81 L505.99,682.37 L510.62,681.94 L515.25,681.51 L519.88,681.08 L524.51,680.65 L529.14,680.23 L533.77,679.81 L538.4,679.39 L543.03,678.98 L547.66,678.57 L552.29,678.17 L556.92,677.76 L561.55,677.36 L566.18,676.97 L570.81,676.58 L575.44,676.19 L580.07,675.8 L584.7,675.42 L589.33,675.05 L593.96,674.67 L598.59,674.3 L603.22,673.94 L607.85,673.58 L612.48,673.22 L617.11,672.86 L621.74,672.51 L626.37,672.17 L631,671.83 L635.63,671.49 L640.26,671.15 L644.89,670.82 L649.52,670.5 L654.15,670.17 L658.78,669.86 L663.41,669.54 L668.04,669.23 L672.67,668.92 L677.3,668.62" fill="none" stroke="#a34aa5" stroke-width="1.2"/>
<path d="M399.5,692.9 L404.13,692.58 L408.76,692.26 L413.39,691.94 L418.02,691.62 L422.65,691.3 L427.28,690.98 L431.91,690.66 L436.54,690.34 L441.17,690.02 L445.8,689.7 L450.43,689.39 L455.06,689.07 L459.69,688.76 L464.32,688.44 L468.95,688.13 L473.58,687.82 L478.21,687.51 L482.84,687.2 L487.47,686.89 L492.1,686.58 L496.73,686.28 L501.36,685.97 L505.99,685.67 L510.62,685.37 L515.25,685.07 L519.88,684.77 L524.51,684.48 L529.14,684.18 L533.77,683.89 L538.4,683.6 L543.03,683.31 L547.66,683.03 L552.29,682.74 L556.92,682.46 L561.55,682.18 L566.18,681.9 L570.81,681.63 L575.44,681.35 L580.07,681.08 L584.7,680.81 L589.33,680.55 L593.96,680.28 L598.59,680.02 L603.22,679.76 L607.85,679.5 L612.48,679.25 L617.11,678.99 L621.74,678.74 L626.37,678.5 L631,678.25 L635.63,678.01 L640.26,677.77 L644.89,677.53 L649.52,677.29 L654.15,677.06 L658.78,676.83 L663.41,676.6 L668.04,676.37 L672.67,676.15 L677.3,675.93" fill="none" stroke="#f0e31c" stroke-width="1.2"/>
<line x1="418.58" y1="412.3" x2="418.58" y2="692.9" stroke="#262626" stroke-width="1.25" stroke-dasharray="4.4 4.85"/>
<line x1="515.06" y1="412.3" x2="515.06" y2="692.9" stroke="#2e2e2e" stroke-width="1.25" stroke-dasharray="4.4 4.85"/>
<circle cx="418.58" cy="650.81" r="1.75" fill="#fff" stroke="#c0503c" stroke-width="0.9"/>
<circle cx="418.58" cy="684.97" r="1.6" fill="#fff" stroke="#1c3f9a" stroke-width="0.9"/>
<circle cx="515.06" cy="649.12" r="1.6" fill="#fff" stroke="#1c3f9a" stroke-width="0.9"/>
<circle cx="418.58" cy="689.33" r="1.6" fill="#fff" stroke="#5ab52c" stroke-width="0.9"/>
<circle cx="515.06" cy="672.31" r="1.6" fill="#fff" stroke="#5ab52c" stroke-width="0.9"/>
<circle cx="418.58" cy="690.97" r="1.6" fill="#fff" stroke="#a34aa5" stroke-width="0.9"/>
<circle cx="515.06" cy="681.52" r="1.6" fill="#fff" stroke="#a34aa5" stroke-width="0.9"/>
<circle cx="418.58" cy="691.58" r="1.6" fill="#fff" stroke="#f0e31c" stroke-width="0.9"/>
<circle cx="515.06" cy="685.08" r="1.6" fill="#fff" stroke="#f0e31c" stroke-width="0.9"/>
<rect x="611.3" y="480.3" width="60.2" height="57.2" fill="#fff" stroke="#bcbcbc" stroke-width="1"/>
<line x1="613.4" y1="486.7" x2="630.6" y2="486.7" stroke="#e41a1c" stroke-width="1.2"/>
<text x="632.6" y="490.2" font-size="9.6" fill="#262626" textLength="36" lengthAdjust="spacingAndGlyphs">mode=1</text>
<line x1="613.4" y1="497.65" x2="630.6" y2="497.65" stroke="#1c3f9a" stroke-width="1.2"/>
<text x="632.6" y="501.15" font-size="9.6" fill="#262626" textLength="36" lengthAdjust="spacingAndGlyphs">mode=2</text>
<line x1="613.4" y1="508.6" x2="630.6" y2="508.6" stroke="#5ab52c" stroke-width="1.2"/>
<text x="632.6" y="512.1" font-size="9.6" fill="#262626" textLength="36" lengthAdjust="spacingAndGlyphs">mode=3</text>
<line x1="613.4" y1="519.55" x2="630.6" y2="519.55" stroke="#a34aa5" stroke-width="1.2"/>
<text x="632.6" y="523.05" font-size="9.6" fill="#262626" textLength="36" lengthAdjust="spacingAndGlyphs">mode=4</text>
<line x1="613.4" y1="530.5" x2="630.6" y2="530.5" stroke="#f0e31c" stroke-width="1.2"/>
<text x="632.6" y="534" font-size="9.6" fill="#262626" textLength="36" lengthAdjust="spacingAndGlyphs">mode=5</text>
<text x="399.5" y="706.9" font-size="10.3" text-anchor="middle" fill="#262626">0</text>
<text x="492.1" y="706.9" font-size="10.3" text-anchor="middle" fill="#262626">0.5</text>
<text x="584.7" y="706.9" font-size="10.3" text-anchor="middle" fill="#262626">1</text>
<text x="677.3" y="706.9" font-size="10.3" text-anchor="middle" fill="#262626">1.5</text>
<text x="395.2" y="696.9" font-size="10.3" text-anchor="end" fill="#262626">0</text>
<text x="395.2" y="656.67" font-size="10.3" text-anchor="end" fill="#262626">20</text>
<text x="395.2" y="616.44" font-size="10.3" text-anchor="end" fill="#262626">40</text>
<text x="395.2" y="576.21" font-size="10.3" text-anchor="end" fill="#262626">60</text>
<text x="395.2" y="535.99" font-size="10.3" text-anchor="end" fill="#262626">80</text>
<text x="395.2" y="495.76" font-size="10.3" text-anchor="end" fill="#262626">100</text>
<text x="395.2" y="455.53" font-size="10.3" text-anchor="end" fill="#262626">120</text>
<text x="395.2" y="415.3" font-size="10.3" text-anchor="end" fill="#262626">140</text>
<text x="647.3" y="721.6" font-size="11.2" fill="#555">×</text>
<text x="655.6" y="721.8" font-family="Liberation Serif" font-size="11.2" fill="#262626">10</text>
<text x="667.7" y="716.8" font-size="8" fill="#262626">−4</text>
<text x="512.1" y="720.1" font-size="12.2" fill="#262626" textLength="51.3" lengthAdjust="spacing">k<tspan dy="3.7" font-size="8.8">H</tspan><tspan dy="-3.7">, rad/m</tspan></text>
<text transform="translate(368.7,578.6) rotate(-90)" font-size="11.8" fill="#262626" textLength="53.2" lengthAdjust="spacing">C<tspan dy="3.6" font-size="8.8">gx</tspan><tspan dy="-3.6">, km/d</tspan></text>
<text x="656" y="686.4" font-size="27.5" fill="#000">e</text>
<text x="412.4" y="408.2" font-size="16" fill="#262626">k</text>
<text x="419.8" y="402.8" font-size="9.2" fill="#262626">C</text>
<text x="420.6" y="409" font-size="7.6" fill="#262626">H</text>
<text x="510.9" y="408.2" font-size="16" fill="#262626">k</text>
<text x="518.3" y="402.8" font-size="9.2" fill="#262626">M</text>
<text x="519.1" y="409" font-size="7.6" fill="#262626">H</text>
</svg></body></html>
